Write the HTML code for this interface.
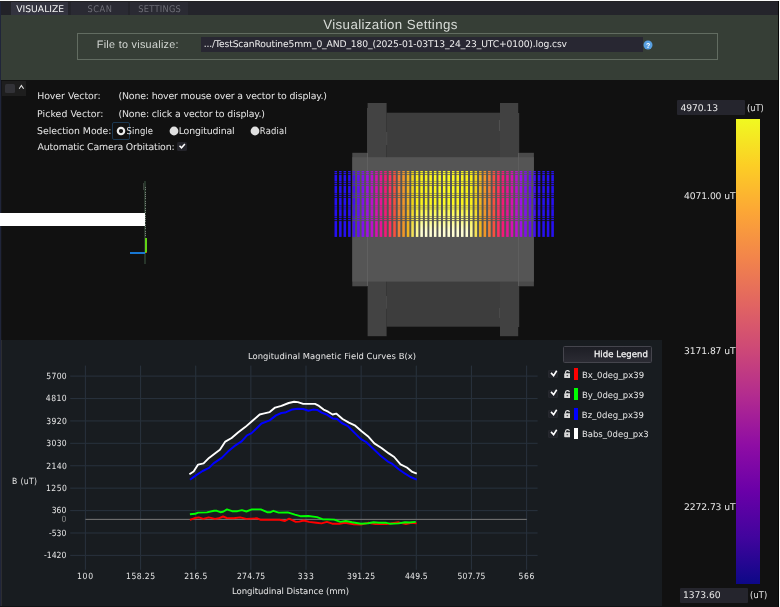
<!DOCTYPE html>
<html><head><meta charset="utf-8"><title>Visualization Settings</title>
<style>
html,body{margin:0;padding:0;background:#111;}
body{width:780px;height:607px;position:relative;overflow:hidden;}
#root{position:absolute;left:0;top:0;width:780px;height:607px;will-change:transform;}
svg text{text-rendering:geometricPrecision;}
.b{position:absolute;display:block;}
.t{position:absolute;white-space:nowrap;margin:0;padding:0;line-height:20px;text-rendering:geometricPrecision;}
.fC{font-family:'DejaVu Sans Condensed','DejaVu Sans',sans-serif;}
.fS{font-family:'DejaVu Sans','Liberation Sans',sans-serif;}
.fA{font-family:'Liberation Sans',sans-serif;}
svg text{text-rendering:geometricPrecision;}
</style></head><body><div id="root">
<div class="b" style="left:0px;top:0px;width:780px;height:607px;background:#111111;"></div>
<div class="b" style="left:0px;top:0px;width:780px;height:1.5px;background:#222124;"></div>
<div class="b" style="left:0px;top:1.5px;width:780px;height:13.9px;background:#24242b;"></div>
<div class="b" style="left:0px;top:1.5px;width:11.2px;height:13.9px;background:#222228;"></div>
<div class="b" style="left:11.2px;top:1.5px;width:57.3px;height:13.9px;background:#33333f;"></div>
<div class="b" style="left:70.5px;top:1.5px;width:57.099999999999994px;height:13.9px;background:#2a2a33;"></div>
<div class="b" style="left:129.6px;top:1.5px;width:58.0px;height:13.9px;background:#2a2a33;"></div>
<div class="t fS" style="left:-159.83px;width:400px;text-align:center;top:0px;font-size:9.2px;color:#f2f2f2;letter-spacing:0.012px;">VISUALIZE</div>
<div class="t fC" style="left:-99.97px;width:400px;text-align:center;top:0px;font-size:9.2px;color:#6d6d76;letter-spacing:0.581px;">SCAN</div>
<div class="t fC" style="left:-40.28px;width:400px;text-align:center;top:0px;font-size:9.2px;color:#6d6d76;letter-spacing:0.267px;">SETTINGS</div>
<div class="b" style="left:0px;top:15.4px;width:780px;height:65.1px;background:#363e36;"></div>
<div class="b" style="left:77px;top:33px;width:641px;height:27px;background:transparent;border:1px solid #626c61;box-sizing:border-box;"></div>
<div class="t fA" style="left:190.50px;width:400px;text-align:center;top:15px;font-size:13.3px;color:#d8dcd8;letter-spacing:0.379px;">Visualization Settings</div>
<div class="t fA" style="left:96.81px;top:35px;font-size:10.8px;color:#d4d8d4;letter-spacing:0.291px;">File to visualize:</div>
<div class="b" style="left:200.8px;top:36.9px;width:441.99999999999994px;height:14.800000000000004px;background:#282732;"></div>
<div class="t fS" style="left:203.76px;top:35px;font-size:9.2px;color:#eeeeee;letter-spacing:-0.132px;">.../TestScanRoutine5mm_0_AND_180_(2025-01-03T13_24_23_UTC+0100).log.csv</div>
<svg class="b" style="left:643.1px;top:39.7px" width="10" height="10" viewBox="0 0 10 10"><circle cx="5" cy="5" r="4.5" fill="#589fe0"/><text x="5.1" y="7.5" font-size="7" font-weight="bold" text-anchor="middle" fill="#ffffff" font-family="Liberation Sans,sans-serif">?</text></svg>
<div class="b" style="left:0px;top:80.5px;width:1.9px;height:526.5px;background:#15161a;"></div>
<div class="b" style="left:0px;top:1.5px;width:1px;height:605.5px;background:#20253a;"></div>
<div class="b" style="left:1px;top:339.7px;width:1px;height:267.3px;background:#2c2d31;"></div>
<div class="b" style="left:1.9px;top:80.5px;width:24.6px;height:15.299999999999997px;background:#1e1e1e;"></div>
<div class="b" style="left:5px;top:84px;width:9.6px;height:8.799999999999997px;background:#323237;border-radius:1.5px;"></div>
<svg class="b" style="left:17.9px;top:83.6px" width="7" height="6" viewBox="0 0 7 6"><path d="M1.2 4.7 L3.4 1.5 L5.6 4.7" fill="none" stroke="#e6e6e6" stroke-width="1.05"/></svg>
<div class="t fS" style="left:37.14px;top:87px;font-size:9.4px;color:#e4e4e4;letter-spacing:-0.030px;">Hover Vector:</div>
<div class="t fS" style="left:118.43px;top:87px;font-size:9.4px;color:#e4e4e4;letter-spacing:-0.145px;">(None: hover mouse over a vector to display.)</div>
<div class="t fS" style="left:37.12px;top:105px;font-size:9.4px;color:#e4e4e4;letter-spacing:0.040px;">Picked Vector:</div>
<div class="t fS" style="left:118.43px;top:105px;font-size:9.4px;color:#e4e4e4;letter-spacing:-0.124px;">(None: click a vector to display.)</div>
<div class="t fS" style="left:37.10px;top:122px;font-size:9.4px;color:#e4e4e4;letter-spacing:-0.042px;">Selection Mode:</div>
<div class="t fS" style="left:37.54px;top:138px;font-size:9.4px;color:#e4e4e4;letter-spacing:-0.150px;">Automatic Camera Orbitation:</div>
<div class="b" style="left:112px;top:122.2px;width:18.400000000000006px;height:17.700000000000003px;background:transparent;border:1px solid #1b3750;box-sizing:border-box;border-radius:2px;"></div>
<svg class="b" style="left:115.3px;top:124.7px" width="12" height="12" viewBox="0 0 12 12"><circle cx="6" cy="6" r="3.2" fill="#111" stroke="#ececec" stroke-width="2.15"/></svg>
<div class="t fC" style="left:126.60px;top:122px;font-size:9.4px;color:#e4e4e4;letter-spacing:0.092px;">Single</div>
<svg class="b" style="left:167.8px;top:125px" width="12" height="12" viewBox="0 0 12 12"><circle cx="6" cy="6" r="4.4" fill="#e0e0e0"/></svg>
<div class="t fS" style="left:178.70px;top:122px;font-size:9.4px;color:#e4e4e4;letter-spacing:-0.161px;">Longitudinal</div>
<svg class="b" style="left:249.1px;top:125px" width="12" height="12" viewBox="0 0 12 12"><circle cx="6" cy="6" r="4.4" fill="#e0e0e0"/></svg>
<div class="t fC" style="left:259.80px;top:122px;font-size:9.4px;color:#e4e4e4;letter-spacing:0.191px;">Radial</div>
<div class="b" style="left:176.9px;top:142.1px;width:10.099999999999994px;height:8.900000000000006px;background:#24242a;border-radius:1.5px;"></div>
<svg class="b" style="left:176.9px;top:142.1px" width="10.1" height="8.9" viewBox="0 0 10.1 8.9"><path d="M2.5 3.7 L4.5 5.8 L7.9 1.9" fill="none" stroke="#ffffff" stroke-width="1.5"/></svg>
<div class="b" style="left:144.3px;top:180.7px;width:1.799999999999983px;height:83.10000000000002px;background:#27352a;"></div>
<div class="b" style="left:145px;top:187px;width:1px;height:50px;background:repeating-linear-gradient(to bottom,#7b807b 0,#7b807b 1px,transparent 1px,transparent 2.3px);"></div>
<div class="b" style="left:143.3px;top:183.2px;width:0.8999999999999773px;height:6.600000000000023px;background:#3b403b;"></div>
<div class="b" style="left:0px;top:212.8px;width:145.2px;height:13.199999999999989px;background:#ffffff;"></div>
<div class="b" style="left:144.8px;top:238.4px;width:2.0999999999999943px;height:14.199999999999989px;background:#62d414;"></div>
<div class="b" style="left:129.8px;top:251.8px;width:15.599999999999994px;height:1.799999999999983px;background:#1877d2;"></div>
<div class="b" style="left:145.5px;top:252px;width:1.4000000000000057px;height:1.4000000000000057px;background:#cc3a22;"></div>
<svg class="b" style="left:0;top:80px" width="662" height="260" viewBox="0 80 662 260"><rect x="386.5" y="112.7" width="113.5" height="214" fill="#3d3d3d"/><rect x="367.6" y="103" width="19" height="233.2" fill="#434343"/><rect x="500" y="103" width="18.2" height="233.2" fill="#414141"/><rect x="518" y="113" width="1.2" height="214" fill="#414141"/><rect x="352.3" y="152.8" width="15.3" height="133.5" fill="#4a4a4a"/><rect x="519" y="152.8" width="14.9" height="133.5" fill="#4a4a4a"/><rect x="352.3" y="157.2" width="181.6" height="124.4" fill="#555555"/><rect x="367" y="153" width="0.9" height="133" fill="#626262"/><rect x="518" y="153" width="0.9" height="133" fill="#606060"/><rect x="367.2" y="108" width="0.8" height="45" fill="#4a4a4a"/><rect x="386.3" y="132" width="0.9" height="13" fill="#505050"/><rect x="498.9" y="120" width="0.9" height="11" fill="#555555"/><rect x="386.1" y="296" width="0.9" height="12.7" fill="#4c4c4c"/><rect x="499" y="308" width="0.9" height="10" fill="#4c4c4c"/><defs><linearGradient id="g0" x1="0" y1="170" x2="0" y2="238" gradientUnits="userSpaceOnUse"><stop offset="0" stop-color="#2610f0"/><stop offset="0.48" stop-color="#2610f0"/><stop offset="0.68" stop-color="#2610f0"/><stop offset="0.9" stop-color="#2610f0"/></linearGradient><linearGradient id="g1" x1="0" y1="170" x2="0" y2="238" gradientUnits="userSpaceOnUse"><stop offset="0" stop-color="#2710f0"/><stop offset="0.48" stop-color="#2710f0"/><stop offset="0.68" stop-color="#2710f0"/><stop offset="0.9" stop-color="#2710f0"/></linearGradient><linearGradient id="g2" x1="0" y1="170" x2="0" y2="238" gradientUnits="userSpaceOnUse"><stop offset="0" stop-color="#2710f0"/><stop offset="0.48" stop-color="#2710f0"/><stop offset="0.68" stop-color="#2710f0"/><stop offset="0.9" stop-color="#2710f0"/></linearGradient><linearGradient id="g3" x1="0" y1="170" x2="0" y2="238" gradientUnits="userSpaceOnUse"><stop offset="0" stop-color="#2810f0"/><stop offset="0.48" stop-color="#2810f0"/><stop offset="0.68" stop-color="#2810f0"/><stop offset="0.9" stop-color="#2810f0"/></linearGradient><linearGradient id="g4" x1="0" y1="170" x2="0" y2="238" gradientUnits="userSpaceOnUse"><stop offset="0" stop-color="#4610f0"/><stop offset="0.48" stop-color="#4610f0"/><stop offset="0.68" stop-color="#4610f0"/><stop offset="0.9" stop-color="#4610f0"/></linearGradient><linearGradient id="g5" x1="0" y1="170" x2="0" y2="238" gradientUnits="userSpaceOnUse"><stop offset="0" stop-color="#6410f0"/><stop offset="0.48" stop-color="#6410f0"/><stop offset="0.68" stop-color="#6410f0"/><stop offset="0.9" stop-color="#6410f0"/></linearGradient><linearGradient id="g6" x1="0" y1="170" x2="0" y2="238" gradientUnits="userSpaceOnUse"><stop offset="0" stop-color="#8210ec"/><stop offset="0.48" stop-color="#8210ec"/><stop offset="0.68" stop-color="#8210ec"/><stop offset="0.9" stop-color="#8210ec"/></linearGradient><linearGradient id="g7" x1="0" y1="170" x2="0" y2="238" gradientUnits="userSpaceOnUse"><stop offset="0" stop-color="#a010e8"/><stop offset="0.48" stop-color="#a010e8"/><stop offset="0.68" stop-color="#a010e8"/><stop offset="0.9" stop-color="#a010e8"/></linearGradient><linearGradient id="g8" x1="0" y1="170" x2="0" y2="238" gradientUnits="userSpaceOnUse"><stop offset="0" stop-color="#bc10ce"/><stop offset="0.48" stop-color="#bc10ce"/><stop offset="0.68" stop-color="#bc10ce"/><stop offset="0.9" stop-color="#bc10ce"/></linearGradient><linearGradient id="g9" x1="0" y1="170" x2="0" y2="238" gradientUnits="userSpaceOnUse"><stop offset="0" stop-color="#d710b4"/><stop offset="0.48" stop-color="#d710b4"/><stop offset="0.68" stop-color="#d710b4"/><stop offset="0.9" stop-color="#d710b4"/></linearGradient><linearGradient id="g10" x1="0" y1="170" x2="0" y2="238" gradientUnits="userSpaceOnUse"><stop offset="0" stop-color="#e61496"/><stop offset="0.48" stop-color="#e61496"/><stop offset="0.68" stop-color="#e61496"/><stop offset="0.9" stop-color="#e61496"/></linearGradient><linearGradient id="g11" x1="0" y1="170" x2="0" y2="238" gradientUnits="userSpaceOnUse"><stop offset="0" stop-color="#f51878"/><stop offset="0.48" stop-color="#f51878"/><stop offset="0.68" stop-color="#f51878"/><stop offset="0.9" stop-color="#f51878"/></linearGradient><linearGradient id="g12" x1="0" y1="170" x2="0" y2="238" gradientUnits="userSpaceOnUse"><stop offset="0" stop-color="#ff3060"/><stop offset="0.48" stop-color="#ff3060"/><stop offset="0.68" stop-color="#ff3060"/><stop offset="0.9" stop-color="#ff3060"/></linearGradient><linearGradient id="g13" x1="0" y1="170" x2="0" y2="238" gradientUnits="userSpaceOnUse"><stop offset="0" stop-color="#f85040"/><stop offset="0.48" stop-color="#f85040"/><stop offset="0.68" stop-color="#f85040"/><stop offset="0.9" stop-color="#f85040"/></linearGradient><linearGradient id="g14" x1="0" y1="170" x2="0" y2="238" gradientUnits="userSpaceOnUse"><stop offset="0" stop-color="#f08034"/><stop offset="0.48" stop-color="#f08034"/><stop offset="0.68" stop-color="#f08034"/><stop offset="0.9" stop-color="#f08034"/></linearGradient><linearGradient id="g15" x1="0" y1="170" x2="0" y2="238" gradientUnits="userSpaceOnUse"><stop offset="0" stop-color="#f09628"/><stop offset="0.48" stop-color="#f09628"/><stop offset="0.68" stop-color="#f09628"/><stop offset="0.9" stop-color="#f09628"/></linearGradient><linearGradient id="g16" x1="0" y1="170" x2="0" y2="238" gradientUnits="userSpaceOnUse"><stop offset="0" stop-color="#f0b420"/><stop offset="0.48" stop-color="#f0b420"/><stop offset="0.68" stop-color="#f0b420"/><stop offset="0.9" stop-color="#f0b420"/></linearGradient><linearGradient id="g17" x1="0" y1="170" x2="0" y2="238" gradientUnits="userSpaceOnUse"><stop offset="0" stop-color="#f0d418"/><stop offset="0.48" stop-color="#f0d418"/><stop offset="0.68" stop-color="#f3dd33"/><stop offset="0.9" stop-color="#f4e156"/></linearGradient><linearGradient id="g18" x1="0" y1="170" x2="0" y2="238" gradientUnits="userSpaceOnUse"><stop offset="0" stop-color="#f8ee18"/><stop offset="0.48" stop-color="#f8ee18"/><stop offset="0.68" stop-color="#fbf54e"/><stop offset="0.9" stop-color="#fcf895"/></linearGradient><linearGradient id="g19" x1="0" y1="170" x2="0" y2="238" gradientUnits="userSpaceOnUse"><stop offset="0" stop-color="#f9f01a"/><stop offset="0.48" stop-color="#f9f01a"/><stop offset="0.68" stop-color="#fcf96a"/><stop offset="0.9" stop-color="#fefed3"/></linearGradient><linearGradient id="g20" x1="0" y1="170" x2="0" y2="238" gradientUnits="userSpaceOnUse"><stop offset="0" stop-color="#f9f21c"/><stop offset="0.48" stop-color="#f9f21c"/><stop offset="0.68" stop-color="#fdfa6b"/><stop offset="0.9" stop-color="#fefed4"/></linearGradient><linearGradient id="g21" x1="0" y1="170" x2="0" y2="238" gradientUnits="userSpaceOnUse"><stop offset="0" stop-color="#faf41e"/><stop offset="0.48" stop-color="#faf41e"/><stop offset="0.68" stop-color="#fdfb6c"/><stop offset="0.9" stop-color="#fefed4"/></linearGradient><linearGradient id="g22" x1="0" y1="170" x2="0" y2="238" gradientUnits="userSpaceOnUse"><stop offset="0" stop-color="#fbf620"/><stop offset="0.48" stop-color="#fbf620"/><stop offset="0.68" stop-color="#fdfb6d"/><stop offset="0.9" stop-color="#fffed4"/></linearGradient><linearGradient id="g23" x1="0" y1="170" x2="0" y2="238" gradientUnits="userSpaceOnUse"><stop offset="0" stop-color="#fbf822"/><stop offset="0.48" stop-color="#fbf822"/><stop offset="0.68" stop-color="#fefc6e"/><stop offset="0.9" stop-color="#fffed4"/></linearGradient><linearGradient id="g24" x1="0" y1="170" x2="0" y2="238" gradientUnits="userSpaceOnUse"><stop offset="0" stop-color="#fcfa24"/><stop offset="0.48" stop-color="#fcfa24"/><stop offset="0.68" stop-color="#fefd6e"/><stop offset="0.9" stop-color="#fffed4"/></linearGradient><linearGradient id="g25" x1="0" y1="170" x2="0" y2="238" gradientUnits="userSpaceOnUse"><stop offset="0" stop-color="#fbf822"/><stop offset="0.48" stop-color="#fbf822"/><stop offset="0.68" stop-color="#fefc6e"/><stop offset="0.9" stop-color="#fffed4"/></linearGradient><linearGradient id="g26" x1="0" y1="170" x2="0" y2="238" gradientUnits="userSpaceOnUse"><stop offset="0" stop-color="#fbf620"/><stop offset="0.48" stop-color="#fbf620"/><stop offset="0.68" stop-color="#fdfb6d"/><stop offset="0.9" stop-color="#fffed4"/></linearGradient><linearGradient id="g27" x1="0" y1="170" x2="0" y2="238" gradientUnits="userSpaceOnUse"><stop offset="0" stop-color="#faf41e"/><stop offset="0.48" stop-color="#faf41e"/><stop offset="0.68" stop-color="#fdfb6c"/><stop offset="0.9" stop-color="#fefed4"/></linearGradient><linearGradient id="g28" x1="0" y1="170" x2="0" y2="238" gradientUnits="userSpaceOnUse"><stop offset="0" stop-color="#f9f21c"/><stop offset="0.48" stop-color="#f9f21c"/><stop offset="0.68" stop-color="#fdfa6b"/><stop offset="0.9" stop-color="#fefed4"/></linearGradient><linearGradient id="g29" x1="0" y1="170" x2="0" y2="238" gradientUnits="userSpaceOnUse"><stop offset="0" stop-color="#f9f01a"/><stop offset="0.48" stop-color="#f9f01a"/><stop offset="0.68" stop-color="#fcf96a"/><stop offset="0.9" stop-color="#fefed3"/></linearGradient><linearGradient id="g30" x1="0" y1="170" x2="0" y2="238" gradientUnits="userSpaceOnUse"><stop offset="0" stop-color="#f8ee18"/><stop offset="0.48" stop-color="#f8ee18"/><stop offset="0.68" stop-color="#fbf54e"/><stop offset="0.9" stop-color="#fcf895"/></linearGradient><linearGradient id="g31" x1="0" y1="170" x2="0" y2="238" gradientUnits="userSpaceOnUse"><stop offset="0" stop-color="#f0d418"/><stop offset="0.48" stop-color="#f0d418"/><stop offset="0.68" stop-color="#f3dd33"/><stop offset="0.9" stop-color="#f4e156"/></linearGradient><linearGradient id="g32" x1="0" y1="170" x2="0" y2="238" gradientUnits="userSpaceOnUse"><stop offset="0" stop-color="#f0b420"/><stop offset="0.48" stop-color="#f0b420"/><stop offset="0.68" stop-color="#f0b420"/><stop offset="0.9" stop-color="#f0b420"/></linearGradient><linearGradient id="g33" x1="0" y1="170" x2="0" y2="238" gradientUnits="userSpaceOnUse"><stop offset="0" stop-color="#f09628"/><stop offset="0.48" stop-color="#f09628"/><stop offset="0.68" stop-color="#f09628"/><stop offset="0.9" stop-color="#f09628"/></linearGradient><linearGradient id="g34" x1="0" y1="170" x2="0" y2="238" gradientUnits="userSpaceOnUse"><stop offset="0" stop-color="#f08034"/><stop offset="0.48" stop-color="#f08034"/><stop offset="0.68" stop-color="#f08034"/><stop offset="0.9" stop-color="#f08034"/></linearGradient><linearGradient id="g35" x1="0" y1="170" x2="0" y2="238" gradientUnits="userSpaceOnUse"><stop offset="0" stop-color="#f85040"/><stop offset="0.48" stop-color="#f85040"/><stop offset="0.68" stop-color="#f85040"/><stop offset="0.9" stop-color="#f85040"/></linearGradient><linearGradient id="g36" x1="0" y1="170" x2="0" y2="238" gradientUnits="userSpaceOnUse"><stop offset="0" stop-color="#ff3060"/><stop offset="0.48" stop-color="#ff3060"/><stop offset="0.68" stop-color="#ff3060"/><stop offset="0.9" stop-color="#ff3060"/></linearGradient><linearGradient id="g37" x1="0" y1="170" x2="0" y2="238" gradientUnits="userSpaceOnUse"><stop offset="0" stop-color="#f51878"/><stop offset="0.48" stop-color="#f51878"/><stop offset="0.68" stop-color="#f51878"/><stop offset="0.9" stop-color="#f51878"/></linearGradient><linearGradient id="g38" x1="0" y1="170" x2="0" y2="238" gradientUnits="userSpaceOnUse"><stop offset="0" stop-color="#e61496"/><stop offset="0.48" stop-color="#e61496"/><stop offset="0.68" stop-color="#e61496"/><stop offset="0.9" stop-color="#e61496"/></linearGradient><linearGradient id="g39" x1="0" y1="170" x2="0" y2="238" gradientUnits="userSpaceOnUse"><stop offset="0" stop-color="#d710b4"/><stop offset="0.48" stop-color="#d710b4"/><stop offset="0.68" stop-color="#d710b4"/><stop offset="0.9" stop-color="#d710b4"/></linearGradient><linearGradient id="g40" x1="0" y1="170" x2="0" y2="238" gradientUnits="userSpaceOnUse"><stop offset="0" stop-color="#bc10ce"/><stop offset="0.48" stop-color="#bc10ce"/><stop offset="0.68" stop-color="#bc10ce"/><stop offset="0.9" stop-color="#bc10ce"/></linearGradient><linearGradient id="g41" x1="0" y1="170" x2="0" y2="238" gradientUnits="userSpaceOnUse"><stop offset="0" stop-color="#a010e8"/><stop offset="0.48" stop-color="#a010e8"/><stop offset="0.68" stop-color="#a010e8"/><stop offset="0.9" stop-color="#a010e8"/></linearGradient><linearGradient id="g42" x1="0" y1="170" x2="0" y2="238" gradientUnits="userSpaceOnUse"><stop offset="0" stop-color="#8210ec"/><stop offset="0.48" stop-color="#8210ec"/><stop offset="0.68" stop-color="#8210ec"/><stop offset="0.9" stop-color="#8210ec"/></linearGradient><linearGradient id="g43" x1="0" y1="170" x2="0" y2="238" gradientUnits="userSpaceOnUse"><stop offset="0" stop-color="#6410f0"/><stop offset="0.48" stop-color="#6410f0"/><stop offset="0.68" stop-color="#6410f0"/><stop offset="0.9" stop-color="#6410f0"/></linearGradient><linearGradient id="g44" x1="0" y1="170" x2="0" y2="238" gradientUnits="userSpaceOnUse"><stop offset="0" stop-color="#4610f0"/><stop offset="0.48" stop-color="#4610f0"/><stop offset="0.68" stop-color="#4610f0"/><stop offset="0.9" stop-color="#4610f0"/></linearGradient><linearGradient id="g45" x1="0" y1="170" x2="0" y2="238" gradientUnits="userSpaceOnUse"><stop offset="0" stop-color="#2810f0"/><stop offset="0.48" stop-color="#2810f0"/><stop offset="0.68" stop-color="#2810f0"/><stop offset="0.9" stop-color="#2810f0"/></linearGradient><linearGradient id="g46" x1="0" y1="170" x2="0" y2="238" gradientUnits="userSpaceOnUse"><stop offset="0" stop-color="#2710f0"/><stop offset="0.48" stop-color="#2710f0"/><stop offset="0.68" stop-color="#2710f0"/><stop offset="0.9" stop-color="#2710f0"/></linearGradient><linearGradient id="g47" x1="0" y1="170" x2="0" y2="238" gradientUnits="userSpaceOnUse"><stop offset="0" stop-color="#2710f0"/><stop offset="0.48" stop-color="#2710f0"/><stop offset="0.68" stop-color="#2710f0"/><stop offset="0.9" stop-color="#2710f0"/></linearGradient><linearGradient id="g48" x1="0" y1="170" x2="0" y2="238" gradientUnits="userSpaceOnUse"><stop offset="0" stop-color="#2610f0"/><stop offset="0.48" stop-color="#2610f0"/><stop offset="0.68" stop-color="#2610f0"/><stop offset="0.9" stop-color="#2610f0"/></linearGradient></defs><rect x="334.55" y="171" width="2.5" height="65.9" fill="url(#g0)" opacity="0.18"/><rect x="334.55" y="171.0" width="2.5" height="1.20" fill="url(#g0)"/><rect x="334.55" y="172.9" width="2.5" height="1.20" fill="url(#g0)"/><rect x="334.55" y="174.9" width="2.5" height="6.60" fill="url(#g0)"/><rect x="334.55" y="182.0" width="2.5" height="1.20" fill="url(#g0)"/><rect x="334.55" y="184.0" width="2.5" height="1.10" fill="url(#g0)"/><rect x="334.55" y="185.9" width="2.5" height="7.50" fill="url(#g0)"/><rect x="334.55" y="193.9" width="2.5" height="1.10" fill="url(#g0)"/><rect x="334.55" y="195.8" width="2.5" height="1.20" fill="url(#g0)"/><rect x="334.55" y="197.8" width="2.5" height="7.50" fill="url(#g0)"/><rect x="334.55" y="205.6" width="2.5" height="1.30" fill="url(#g0)"/><rect x="334.55" y="207.3" width="2.5" height="1.50" fill="url(#g0)"/><rect x="334.55" y="209.2" width="2.5" height="7.10" fill="url(#g0)"/><rect x="334.55" y="216.8" width="2.5" height="1.20" fill="url(#g0)"/><rect x="334.55" y="218.9" width="2.5" height="1.20" fill="url(#g0)"/><rect x="334.55" y="221.1" width="2.5" height="15.80" fill="url(#g0)"/><rect x="339.07" y="171" width="2.5" height="65.9" fill="url(#g1)" opacity="0.18"/><rect x="339.07" y="171.0" width="2.5" height="1.20" fill="url(#g1)"/><rect x="339.07" y="172.9" width="2.5" height="1.20" fill="url(#g1)"/><rect x="339.07" y="174.9" width="2.5" height="6.60" fill="url(#g1)"/><rect x="339.07" y="182.0" width="2.5" height="1.20" fill="url(#g1)"/><rect x="339.07" y="184.0" width="2.5" height="1.10" fill="url(#g1)"/><rect x="339.07" y="185.9" width="2.5" height="7.50" fill="url(#g1)"/><rect x="339.07" y="193.9" width="2.5" height="1.10" fill="url(#g1)"/><rect x="339.07" y="195.8" width="2.5" height="1.20" fill="url(#g1)"/><rect x="339.07" y="197.8" width="2.5" height="7.50" fill="url(#g1)"/><rect x="339.07" y="205.6" width="2.5" height="1.30" fill="url(#g1)"/><rect x="339.07" y="207.3" width="2.5" height="1.50" fill="url(#g1)"/><rect x="339.07" y="209.2" width="2.5" height="7.10" fill="url(#g1)"/><rect x="339.07" y="216.8" width="2.5" height="1.20" fill="url(#g1)"/><rect x="339.07" y="218.9" width="2.5" height="1.20" fill="url(#g1)"/><rect x="339.07" y="221.1" width="2.5" height="15.80" fill="url(#g1)"/><rect x="343.58" y="171" width="2.5" height="65.9" fill="url(#g2)" opacity="0.18"/><rect x="343.58" y="171.0" width="2.5" height="1.20" fill="url(#g2)"/><rect x="343.58" y="172.9" width="2.5" height="1.20" fill="url(#g2)"/><rect x="343.58" y="174.9" width="2.5" height="6.60" fill="url(#g2)"/><rect x="343.58" y="182.0" width="2.5" height="1.20" fill="url(#g2)"/><rect x="343.58" y="184.0" width="2.5" height="1.10" fill="url(#g2)"/><rect x="343.58" y="185.9" width="2.5" height="7.50" fill="url(#g2)"/><rect x="343.58" y="193.9" width="2.5" height="1.10" fill="url(#g2)"/><rect x="343.58" y="195.8" width="2.5" height="1.20" fill="url(#g2)"/><rect x="343.58" y="197.8" width="2.5" height="7.50" fill="url(#g2)"/><rect x="343.58" y="205.6" width="2.5" height="1.30" fill="url(#g2)"/><rect x="343.58" y="207.3" width="2.5" height="1.50" fill="url(#g2)"/><rect x="343.58" y="209.2" width="2.5" height="7.10" fill="url(#g2)"/><rect x="343.58" y="216.8" width="2.5" height="1.20" fill="url(#g2)"/><rect x="343.58" y="218.9" width="2.5" height="1.20" fill="url(#g2)"/><rect x="343.58" y="221.1" width="2.5" height="15.80" fill="url(#g2)"/><rect x="348.10" y="171" width="2.5" height="65.9" fill="url(#g3)" opacity="0.18"/><rect x="348.10" y="171.0" width="2.5" height="1.20" fill="url(#g3)"/><rect x="348.10" y="172.9" width="2.5" height="1.20" fill="url(#g3)"/><rect x="348.10" y="174.9" width="2.5" height="6.60" fill="url(#g3)"/><rect x="348.10" y="182.0" width="2.5" height="1.20" fill="url(#g3)"/><rect x="348.10" y="184.0" width="2.5" height="1.10" fill="url(#g3)"/><rect x="348.10" y="185.9" width="2.5" height="7.50" fill="url(#g3)"/><rect x="348.10" y="193.9" width="2.5" height="1.10" fill="url(#g3)"/><rect x="348.10" y="195.8" width="2.5" height="1.20" fill="url(#g3)"/><rect x="348.10" y="197.8" width="2.5" height="7.50" fill="url(#g3)"/><rect x="348.10" y="205.6" width="2.5" height="1.30" fill="url(#g3)"/><rect x="348.10" y="207.3" width="2.5" height="1.50" fill="url(#g3)"/><rect x="348.10" y="209.2" width="2.5" height="7.10" fill="url(#g3)"/><rect x="348.10" y="216.8" width="2.5" height="1.20" fill="url(#g3)"/><rect x="348.10" y="218.9" width="2.5" height="1.20" fill="url(#g3)"/><rect x="348.10" y="221.1" width="2.5" height="15.80" fill="url(#g3)"/><rect x="352.62" y="171" width="2.5" height="65.9" fill="url(#g4)" opacity="0.18"/><rect x="352.62" y="171.0" width="2.5" height="1.20" fill="url(#g4)"/><rect x="352.62" y="172.9" width="2.5" height="1.20" fill="url(#g4)"/><rect x="352.62" y="174.9" width="2.5" height="6.60" fill="url(#g4)"/><rect x="352.62" y="182.0" width="2.5" height="1.20" fill="url(#g4)"/><rect x="352.62" y="184.0" width="2.5" height="1.10" fill="url(#g4)"/><rect x="352.62" y="185.9" width="2.5" height="7.50" fill="url(#g4)"/><rect x="352.62" y="193.9" width="2.5" height="1.10" fill="url(#g4)"/><rect x="352.62" y="195.8" width="2.5" height="1.20" fill="url(#g4)"/><rect x="352.62" y="197.8" width="2.5" height="7.50" fill="url(#g4)"/><rect x="352.62" y="205.6" width="2.5" height="1.30" fill="url(#g4)"/><rect x="352.62" y="207.3" width="2.5" height="1.50" fill="url(#g4)"/><rect x="352.62" y="209.2" width="2.5" height="7.10" fill="url(#g4)"/><rect x="352.62" y="216.8" width="2.5" height="1.20" fill="url(#g4)"/><rect x="352.62" y="218.9" width="2.5" height="1.20" fill="url(#g4)"/><rect x="352.62" y="221.1" width="2.5" height="15.80" fill="url(#g4)"/><rect x="357.13" y="171" width="2.5" height="65.9" fill="url(#g5)" opacity="0.18"/><rect x="357.13" y="171.0" width="2.5" height="1.20" fill="url(#g5)"/><rect x="357.13" y="172.9" width="2.5" height="1.20" fill="url(#g5)"/><rect x="357.13" y="174.9" width="2.5" height="6.60" fill="url(#g5)"/><rect x="357.13" y="182.0" width="2.5" height="1.20" fill="url(#g5)"/><rect x="357.13" y="184.0" width="2.5" height="1.10" fill="url(#g5)"/><rect x="357.13" y="185.9" width="2.5" height="7.50" fill="url(#g5)"/><rect x="357.13" y="193.9" width="2.5" height="1.10" fill="url(#g5)"/><rect x="357.13" y="195.8" width="2.5" height="1.20" fill="url(#g5)"/><rect x="357.13" y="197.8" width="2.5" height="7.50" fill="url(#g5)"/><rect x="357.13" y="205.6" width="2.5" height="1.30" fill="url(#g5)"/><rect x="357.13" y="207.3" width="2.5" height="1.50" fill="url(#g5)"/><rect x="357.13" y="209.2" width="2.5" height="7.10" fill="url(#g5)"/><rect x="357.13" y="216.8" width="2.5" height="1.20" fill="url(#g5)"/><rect x="357.13" y="218.9" width="2.5" height="1.20" fill="url(#g5)"/><rect x="357.13" y="221.1" width="2.5" height="15.80" fill="url(#g5)"/><rect x="361.65" y="171" width="2.5" height="65.9" fill="url(#g6)" opacity="0.18"/><rect x="361.65" y="171.0" width="2.5" height="1.20" fill="url(#g6)"/><rect x="361.65" y="172.9" width="2.5" height="1.20" fill="url(#g6)"/><rect x="361.65" y="174.9" width="2.5" height="6.60" fill="url(#g6)"/><rect x="361.65" y="182.0" width="2.5" height="1.20" fill="url(#g6)"/><rect x="361.65" y="184.0" width="2.5" height="1.10" fill="url(#g6)"/><rect x="361.65" y="185.9" width="2.5" height="7.50" fill="url(#g6)"/><rect x="361.65" y="193.9" width="2.5" height="1.10" fill="url(#g6)"/><rect x="361.65" y="195.8" width="2.5" height="1.20" fill="url(#g6)"/><rect x="361.65" y="197.8" width="2.5" height="7.50" fill="url(#g6)"/><rect x="361.65" y="205.6" width="2.5" height="1.30" fill="url(#g6)"/><rect x="361.65" y="207.3" width="2.5" height="1.50" fill="url(#g6)"/><rect x="361.65" y="209.2" width="2.5" height="7.10" fill="url(#g6)"/><rect x="361.65" y="216.8" width="2.5" height="1.20" fill="url(#g6)"/><rect x="361.65" y="218.9" width="2.5" height="1.20" fill="url(#g6)"/><rect x="361.65" y="221.1" width="2.5" height="15.80" fill="url(#g6)"/><rect x="366.17" y="171" width="2.5" height="65.9" fill="url(#g7)" opacity="0.18"/><rect x="366.17" y="171.0" width="2.5" height="1.20" fill="url(#g7)"/><rect x="366.17" y="172.9" width="2.5" height="1.20" fill="url(#g7)"/><rect x="366.17" y="174.9" width="2.5" height="6.60" fill="url(#g7)"/><rect x="366.17" y="182.0" width="2.5" height="1.20" fill="url(#g7)"/><rect x="366.17" y="184.0" width="2.5" height="1.10" fill="url(#g7)"/><rect x="366.17" y="185.9" width="2.5" height="7.50" fill="url(#g7)"/><rect x="366.17" y="193.9" width="2.5" height="1.10" fill="url(#g7)"/><rect x="366.17" y="195.8" width="2.5" height="1.20" fill="url(#g7)"/><rect x="366.17" y="197.8" width="2.5" height="7.50" fill="url(#g7)"/><rect x="366.17" y="205.6" width="2.5" height="1.30" fill="url(#g7)"/><rect x="366.17" y="207.3" width="2.5" height="1.50" fill="url(#g7)"/><rect x="366.17" y="209.2" width="2.5" height="7.10" fill="url(#g7)"/><rect x="366.17" y="216.8" width="2.5" height="1.20" fill="url(#g7)"/><rect x="366.17" y="218.9" width="2.5" height="1.20" fill="url(#g7)"/><rect x="366.17" y="221.1" width="2.5" height="15.80" fill="url(#g7)"/><rect x="370.68" y="171" width="2.5" height="65.9" fill="url(#g8)" opacity="0.18"/><rect x="370.68" y="171.0" width="2.5" height="1.20" fill="url(#g8)"/><rect x="370.68" y="172.9" width="2.5" height="1.20" fill="url(#g8)"/><rect x="370.68" y="174.9" width="2.5" height="6.60" fill="url(#g8)"/><rect x="370.68" y="182.0" width="2.5" height="1.20" fill="url(#g8)"/><rect x="370.68" y="184.0" width="2.5" height="1.10" fill="url(#g8)"/><rect x="370.68" y="185.9" width="2.5" height="7.50" fill="url(#g8)"/><rect x="370.68" y="193.9" width="2.5" height="1.10" fill="url(#g8)"/><rect x="370.68" y="195.8" width="2.5" height="1.20" fill="url(#g8)"/><rect x="370.68" y="197.8" width="2.5" height="7.50" fill="url(#g8)"/><rect x="370.68" y="205.6" width="2.5" height="1.30" fill="url(#g8)"/><rect x="370.68" y="207.3" width="2.5" height="1.50" fill="url(#g8)"/><rect x="370.68" y="209.2" width="2.5" height="7.10" fill="url(#g8)"/><rect x="370.68" y="216.8" width="2.5" height="1.20" fill="url(#g8)"/><rect x="370.68" y="218.9" width="2.5" height="1.20" fill="url(#g8)"/><rect x="370.68" y="221.1" width="2.5" height="15.80" fill="url(#g8)"/><rect x="375.20" y="171" width="2.5" height="65.9" fill="url(#g9)" opacity="0.18"/><rect x="375.20" y="171.0" width="2.5" height="1.20" fill="url(#g9)"/><rect x="375.20" y="172.9" width="2.5" height="1.20" fill="url(#g9)"/><rect x="375.20" y="174.9" width="2.5" height="6.60" fill="url(#g9)"/><rect x="375.20" y="182.0" width="2.5" height="1.20" fill="url(#g9)"/><rect x="375.20" y="184.0" width="2.5" height="1.10" fill="url(#g9)"/><rect x="375.20" y="185.9" width="2.5" height="7.50" fill="url(#g9)"/><rect x="375.20" y="193.9" width="2.5" height="1.10" fill="url(#g9)"/><rect x="375.20" y="195.8" width="2.5" height="1.20" fill="url(#g9)"/><rect x="375.20" y="197.8" width="2.5" height="7.50" fill="url(#g9)"/><rect x="375.20" y="205.6" width="2.5" height="1.30" fill="url(#g9)"/><rect x="375.20" y="207.3" width="2.5" height="1.50" fill="url(#g9)"/><rect x="375.20" y="209.2" width="2.5" height="7.10" fill="url(#g9)"/><rect x="375.20" y="216.8" width="2.5" height="1.20" fill="url(#g9)"/><rect x="375.20" y="218.9" width="2.5" height="1.20" fill="url(#g9)"/><rect x="375.20" y="221.1" width="2.5" height="15.80" fill="url(#g9)"/><rect x="379.72" y="171" width="2.5" height="65.9" fill="url(#g10)" opacity="0.18"/><rect x="379.72" y="171.0" width="2.5" height="1.20" fill="url(#g10)"/><rect x="379.72" y="172.9" width="2.5" height="1.20" fill="url(#g10)"/><rect x="379.72" y="174.9" width="2.5" height="6.60" fill="url(#g10)"/><rect x="379.72" y="182.0" width="2.5" height="1.20" fill="url(#g10)"/><rect x="379.72" y="184.0" width="2.5" height="1.10" fill="url(#g10)"/><rect x="379.72" y="185.9" width="2.5" height="7.50" fill="url(#g10)"/><rect x="379.72" y="193.9" width="2.5" height="1.10" fill="url(#g10)"/><rect x="379.72" y="195.8" width="2.5" height="1.20" fill="url(#g10)"/><rect x="379.72" y="197.8" width="2.5" height="7.50" fill="url(#g10)"/><rect x="379.72" y="205.6" width="2.5" height="1.30" fill="url(#g10)"/><rect x="379.72" y="207.3" width="2.5" height="1.50" fill="url(#g10)"/><rect x="379.72" y="209.2" width="2.5" height="7.10" fill="url(#g10)"/><rect x="379.72" y="216.8" width="2.5" height="1.20" fill="url(#g10)"/><rect x="379.72" y="218.9" width="2.5" height="1.20" fill="url(#g10)"/><rect x="379.72" y="221.1" width="2.5" height="15.80" fill="url(#g10)"/><rect x="384.23" y="171" width="2.5" height="65.9" fill="url(#g11)" opacity="0.18"/><rect x="384.23" y="171.0" width="2.5" height="1.20" fill="url(#g11)"/><rect x="384.23" y="172.9" width="2.5" height="1.20" fill="url(#g11)"/><rect x="384.23" y="174.9" width="2.5" height="6.60" fill="url(#g11)"/><rect x="384.23" y="182.0" width="2.5" height="1.20" fill="url(#g11)"/><rect x="384.23" y="184.0" width="2.5" height="1.10" fill="url(#g11)"/><rect x="384.23" y="185.9" width="2.5" height="7.50" fill="url(#g11)"/><rect x="384.23" y="193.9" width="2.5" height="1.10" fill="url(#g11)"/><rect x="384.23" y="195.8" width="2.5" height="1.20" fill="url(#g11)"/><rect x="384.23" y="197.8" width="2.5" height="7.50" fill="url(#g11)"/><rect x="384.23" y="205.6" width="2.5" height="1.30" fill="url(#g11)"/><rect x="384.23" y="207.3" width="2.5" height="1.50" fill="url(#g11)"/><rect x="384.23" y="209.2" width="2.5" height="7.10" fill="url(#g11)"/><rect x="384.23" y="216.8" width="2.5" height="1.20" fill="url(#g11)"/><rect x="384.23" y="218.9" width="2.5" height="1.20" fill="url(#g11)"/><rect x="384.23" y="221.1" width="2.5" height="15.80" fill="url(#g11)"/><rect x="388.75" y="171" width="2.5" height="65.9" fill="url(#g12)" opacity="0.18"/><rect x="388.75" y="171.0" width="2.5" height="1.20" fill="url(#g12)"/><rect x="388.75" y="172.9" width="2.5" height="1.20" fill="url(#g12)"/><rect x="388.75" y="174.9" width="2.5" height="6.60" fill="url(#g12)"/><rect x="388.75" y="182.0" width="2.5" height="1.20" fill="url(#g12)"/><rect x="388.75" y="184.0" width="2.5" height="1.10" fill="url(#g12)"/><rect x="388.75" y="185.9" width="2.5" height="7.50" fill="url(#g12)"/><rect x="388.75" y="193.9" width="2.5" height="1.10" fill="url(#g12)"/><rect x="388.75" y="195.8" width="2.5" height="1.20" fill="url(#g12)"/><rect x="388.75" y="197.8" width="2.5" height="7.50" fill="url(#g12)"/><rect x="388.75" y="205.6" width="2.5" height="1.30" fill="url(#g12)"/><rect x="388.75" y="207.3" width="2.5" height="1.50" fill="url(#g12)"/><rect x="388.75" y="209.2" width="2.5" height="7.10" fill="url(#g12)"/><rect x="388.75" y="216.8" width="2.5" height="1.20" fill="url(#g12)"/><rect x="388.75" y="218.9" width="2.5" height="1.20" fill="url(#g12)"/><rect x="388.75" y="221.1" width="2.5" height="15.80" fill="url(#g12)"/><rect x="393.27" y="171" width="2.5" height="65.9" fill="url(#g13)" opacity="0.18"/><rect x="393.27" y="171.0" width="2.5" height="1.20" fill="url(#g13)"/><rect x="393.27" y="172.9" width="2.5" height="1.20" fill="url(#g13)"/><rect x="393.27" y="174.9" width="2.5" height="6.60" fill="url(#g13)"/><rect x="393.27" y="182.0" width="2.5" height="1.20" fill="url(#g13)"/><rect x="393.27" y="184.0" width="2.5" height="1.10" fill="url(#g13)"/><rect x="393.27" y="185.9" width="2.5" height="7.50" fill="url(#g13)"/><rect x="393.27" y="193.9" width="2.5" height="1.10" fill="url(#g13)"/><rect x="393.27" y="195.8" width="2.5" height="1.20" fill="url(#g13)"/><rect x="393.27" y="197.8" width="2.5" height="7.50" fill="url(#g13)"/><rect x="393.27" y="205.6" width="2.5" height="1.30" fill="url(#g13)"/><rect x="393.27" y="207.3" width="2.5" height="1.50" fill="url(#g13)"/><rect x="393.27" y="209.2" width="2.5" height="7.10" fill="url(#g13)"/><rect x="393.27" y="216.8" width="2.5" height="1.20" fill="url(#g13)"/><rect x="393.27" y="218.9" width="2.5" height="1.20" fill="url(#g13)"/><rect x="393.27" y="221.1" width="2.5" height="15.80" fill="url(#g13)"/><rect x="397.78" y="171" width="2.5" height="65.9" fill="url(#g14)" opacity="0.18"/><rect x="397.78" y="171.0" width="2.5" height="1.20" fill="url(#g14)"/><rect x="397.78" y="172.9" width="2.5" height="1.20" fill="url(#g14)"/><rect x="397.78" y="174.9" width="2.5" height="6.60" fill="url(#g14)"/><rect x="397.78" y="182.0" width="2.5" height="1.20" fill="url(#g14)"/><rect x="397.78" y="184.0" width="2.5" height="1.10" fill="url(#g14)"/><rect x="397.78" y="185.9" width="2.5" height="7.50" fill="url(#g14)"/><rect x="397.78" y="193.9" width="2.5" height="1.10" fill="url(#g14)"/><rect x="397.78" y="195.8" width="2.5" height="1.20" fill="url(#g14)"/><rect x="397.78" y="197.8" width="2.5" height="7.50" fill="url(#g14)"/><rect x="397.78" y="205.6" width="2.5" height="1.30" fill="url(#g14)"/><rect x="397.78" y="207.3" width="2.5" height="1.50" fill="url(#g14)"/><rect x="397.78" y="209.2" width="2.5" height="7.10" fill="url(#g14)"/><rect x="397.78" y="216.8" width="2.5" height="1.20" fill="url(#g14)"/><rect x="397.78" y="218.9" width="2.5" height="1.20" fill="url(#g14)"/><rect x="397.78" y="221.1" width="2.5" height="15.80" fill="url(#g14)"/><rect x="402.30" y="171" width="2.5" height="65.9" fill="url(#g15)" opacity="0.18"/><rect x="402.30" y="171.0" width="2.5" height="1.20" fill="url(#g15)"/><rect x="402.30" y="172.9" width="2.5" height="1.20" fill="url(#g15)"/><rect x="402.30" y="174.9" width="2.5" height="6.60" fill="url(#g15)"/><rect x="402.30" y="182.0" width="2.5" height="1.20" fill="url(#g15)"/><rect x="402.30" y="184.0" width="2.5" height="1.10" fill="url(#g15)"/><rect x="402.30" y="185.9" width="2.5" height="7.50" fill="url(#g15)"/><rect x="402.30" y="193.9" width="2.5" height="1.10" fill="url(#g15)"/><rect x="402.30" y="195.8" width="2.5" height="1.20" fill="url(#g15)"/><rect x="402.30" y="197.8" width="2.5" height="7.50" fill="url(#g15)"/><rect x="402.30" y="205.6" width="2.5" height="1.30" fill="url(#g15)"/><rect x="402.30" y="207.3" width="2.5" height="1.50" fill="url(#g15)"/><rect x="402.30" y="209.2" width="2.5" height="7.10" fill="url(#g15)"/><rect x="402.30" y="216.8" width="2.5" height="1.20" fill="url(#g15)"/><rect x="402.30" y="218.9" width="2.5" height="1.20" fill="url(#g15)"/><rect x="402.30" y="221.1" width="2.5" height="15.80" fill="url(#g15)"/><rect x="406.82" y="171" width="2.5" height="65.9" fill="url(#g16)" opacity="0.18"/><rect x="406.82" y="171.0" width="2.5" height="1.20" fill="url(#g16)"/><rect x="406.82" y="172.9" width="2.5" height="1.20" fill="url(#g16)"/><rect x="406.82" y="174.9" width="2.5" height="6.60" fill="url(#g16)"/><rect x="406.82" y="182.0" width="2.5" height="1.20" fill="url(#g16)"/><rect x="406.82" y="184.0" width="2.5" height="1.10" fill="url(#g16)"/><rect x="406.82" y="185.9" width="2.5" height="7.50" fill="url(#g16)"/><rect x="406.82" y="193.9" width="2.5" height="1.10" fill="url(#g16)"/><rect x="406.82" y="195.8" width="2.5" height="1.20" fill="url(#g16)"/><rect x="406.82" y="197.8" width="2.5" height="7.50" fill="url(#g16)"/><rect x="406.82" y="205.6" width="2.5" height="1.30" fill="url(#g16)"/><rect x="406.82" y="207.3" width="2.5" height="1.50" fill="url(#g16)"/><rect x="406.82" y="209.2" width="2.5" height="7.10" fill="url(#g16)"/><rect x="406.82" y="216.8" width="2.5" height="1.20" fill="url(#g16)"/><rect x="406.82" y="218.9" width="2.5" height="1.20" fill="url(#g16)"/><rect x="406.82" y="221.1" width="2.5" height="15.80" fill="url(#g16)"/><rect x="411.33" y="171" width="2.5" height="65.9" fill="url(#g17)" opacity="0.18"/><rect x="411.33" y="171.0" width="2.5" height="1.20" fill="url(#g17)"/><rect x="411.33" y="172.9" width="2.5" height="1.20" fill="url(#g17)"/><rect x="411.33" y="174.9" width="2.5" height="6.60" fill="url(#g17)"/><rect x="411.33" y="182.0" width="2.5" height="1.20" fill="url(#g17)"/><rect x="411.33" y="184.0" width="2.5" height="1.10" fill="url(#g17)"/><rect x="411.33" y="185.9" width="2.5" height="7.50" fill="url(#g17)"/><rect x="411.33" y="193.9" width="2.5" height="1.10" fill="url(#g17)"/><rect x="411.33" y="195.8" width="2.5" height="1.20" fill="url(#g17)"/><rect x="411.33" y="197.8" width="2.5" height="7.50" fill="url(#g17)"/><rect x="411.33" y="205.6" width="2.5" height="1.30" fill="url(#g17)"/><rect x="411.33" y="207.3" width="2.5" height="1.50" fill="url(#g17)"/><rect x="411.33" y="209.2" width="2.5" height="7.10" fill="url(#g17)"/><rect x="411.33" y="216.8" width="2.5" height="1.20" fill="url(#g17)"/><rect x="411.33" y="218.9" width="2.5" height="1.20" fill="url(#g17)"/><rect x="411.33" y="221.1" width="2.5" height="15.80" fill="url(#g17)"/><rect x="415.85" y="171" width="2.5" height="65.9" fill="url(#g18)" opacity="0.18"/><rect x="415.85" y="171.0" width="2.5" height="1.20" fill="url(#g18)"/><rect x="415.85" y="172.9" width="2.5" height="1.20" fill="url(#g18)"/><rect x="415.85" y="174.9" width="2.5" height="6.60" fill="url(#g18)"/><rect x="415.85" y="182.0" width="2.5" height="1.20" fill="url(#g18)"/><rect x="415.85" y="184.0" width="2.5" height="1.10" fill="url(#g18)"/><rect x="415.85" y="185.9" width="2.5" height="7.50" fill="url(#g18)"/><rect x="415.85" y="193.9" width="2.5" height="1.10" fill="url(#g18)"/><rect x="415.85" y="195.8" width="2.5" height="1.20" fill="url(#g18)"/><rect x="415.85" y="197.8" width="2.5" height="7.50" fill="url(#g18)"/><rect x="415.85" y="205.6" width="2.5" height="1.30" fill="url(#g18)"/><rect x="415.85" y="207.3" width="2.5" height="1.50" fill="url(#g18)"/><rect x="415.85" y="209.2" width="2.5" height="7.10" fill="url(#g18)"/><rect x="415.85" y="216.8" width="2.5" height="1.20" fill="url(#g18)"/><rect x="415.85" y="218.9" width="2.5" height="1.20" fill="url(#g18)"/><rect x="415.85" y="221.1" width="2.5" height="15.80" fill="url(#g18)"/><rect x="420.37" y="171" width="2.5" height="65.9" fill="url(#g19)" opacity="0.18"/><rect x="420.37" y="171.0" width="2.5" height="1.20" fill="url(#g19)"/><rect x="420.37" y="172.9" width="2.5" height="1.20" fill="url(#g19)"/><rect x="420.37" y="174.9" width="2.5" height="6.60" fill="url(#g19)"/><rect x="420.37" y="182.0" width="2.5" height="1.20" fill="url(#g19)"/><rect x="420.37" y="184.0" width="2.5" height="1.10" fill="url(#g19)"/><rect x="420.37" y="185.9" width="2.5" height="7.50" fill="url(#g19)"/><rect x="420.37" y="193.9" width="2.5" height="1.10" fill="url(#g19)"/><rect x="420.37" y="195.8" width="2.5" height="1.20" fill="url(#g19)"/><rect x="420.37" y="197.8" width="2.5" height="7.50" fill="url(#g19)"/><rect x="420.37" y="205.6" width="2.5" height="1.30" fill="url(#g19)"/><rect x="420.37" y="207.3" width="2.5" height="1.50" fill="url(#g19)"/><rect x="420.37" y="209.2" width="2.5" height="7.10" fill="url(#g19)"/><rect x="420.37" y="216.8" width="2.5" height="1.20" fill="url(#g19)"/><rect x="420.37" y="218.9" width="2.5" height="1.20" fill="url(#g19)"/><rect x="420.37" y="221.1" width="2.5" height="15.80" fill="url(#g19)"/><rect x="424.88" y="171" width="2.5" height="65.9" fill="url(#g20)" opacity="0.18"/><rect x="424.88" y="171.0" width="2.5" height="1.20" fill="url(#g20)"/><rect x="424.88" y="172.9" width="2.5" height="1.20" fill="url(#g20)"/><rect x="424.88" y="174.9" width="2.5" height="6.60" fill="url(#g20)"/><rect x="424.88" y="182.0" width="2.5" height="1.20" fill="url(#g20)"/><rect x="424.88" y="184.0" width="2.5" height="1.10" fill="url(#g20)"/><rect x="424.88" y="185.9" width="2.5" height="7.50" fill="url(#g20)"/><rect x="424.88" y="193.9" width="2.5" height="1.10" fill="url(#g20)"/><rect x="424.88" y="195.8" width="2.5" height="1.20" fill="url(#g20)"/><rect x="424.88" y="197.8" width="2.5" height="7.50" fill="url(#g20)"/><rect x="424.88" y="205.6" width="2.5" height="1.30" fill="url(#g20)"/><rect x="424.88" y="207.3" width="2.5" height="1.50" fill="url(#g20)"/><rect x="424.88" y="209.2" width="2.5" height="7.10" fill="url(#g20)"/><rect x="424.88" y="216.8" width="2.5" height="1.20" fill="url(#g20)"/><rect x="424.88" y="218.9" width="2.5" height="1.20" fill="url(#g20)"/><rect x="424.88" y="221.1" width="2.5" height="15.80" fill="url(#g20)"/><rect x="429.40" y="171" width="2.5" height="65.9" fill="url(#g21)" opacity="0.18"/><rect x="429.40" y="171.0" width="2.5" height="1.20" fill="url(#g21)"/><rect x="429.40" y="172.9" width="2.5" height="1.20" fill="url(#g21)"/><rect x="429.40" y="174.9" width="2.5" height="6.60" fill="url(#g21)"/><rect x="429.40" y="182.0" width="2.5" height="1.20" fill="url(#g21)"/><rect x="429.40" y="184.0" width="2.5" height="1.10" fill="url(#g21)"/><rect x="429.40" y="185.9" width="2.5" height="7.50" fill="url(#g21)"/><rect x="429.40" y="193.9" width="2.5" height="1.10" fill="url(#g21)"/><rect x="429.40" y="195.8" width="2.5" height="1.20" fill="url(#g21)"/><rect x="429.40" y="197.8" width="2.5" height="7.50" fill="url(#g21)"/><rect x="429.40" y="205.6" width="2.5" height="1.30" fill="url(#g21)"/><rect x="429.40" y="207.3" width="2.5" height="1.50" fill="url(#g21)"/><rect x="429.40" y="209.2" width="2.5" height="7.10" fill="url(#g21)"/><rect x="429.40" y="216.8" width="2.5" height="1.20" fill="url(#g21)"/><rect x="429.40" y="218.9" width="2.5" height="1.20" fill="url(#g21)"/><rect x="429.40" y="221.1" width="2.5" height="15.80" fill="url(#g21)"/><rect x="433.92" y="171" width="2.5" height="65.9" fill="url(#g22)" opacity="0.18"/><rect x="433.92" y="171.0" width="2.5" height="1.20" fill="url(#g22)"/><rect x="433.92" y="172.9" width="2.5" height="1.20" fill="url(#g22)"/><rect x="433.92" y="174.9" width="2.5" height="6.60" fill="url(#g22)"/><rect x="433.92" y="182.0" width="2.5" height="1.20" fill="url(#g22)"/><rect x="433.92" y="184.0" width="2.5" height="1.10" fill="url(#g22)"/><rect x="433.92" y="185.9" width="2.5" height="7.50" fill="url(#g22)"/><rect x="433.92" y="193.9" width="2.5" height="1.10" fill="url(#g22)"/><rect x="433.92" y="195.8" width="2.5" height="1.20" fill="url(#g22)"/><rect x="433.92" y="197.8" width="2.5" height="7.50" fill="url(#g22)"/><rect x="433.92" y="205.6" width="2.5" height="1.30" fill="url(#g22)"/><rect x="433.92" y="207.3" width="2.5" height="1.50" fill="url(#g22)"/><rect x="433.92" y="209.2" width="2.5" height="7.10" fill="url(#g22)"/><rect x="433.92" y="216.8" width="2.5" height="1.20" fill="url(#g22)"/><rect x="433.92" y="218.9" width="2.5" height="1.20" fill="url(#g22)"/><rect x="433.92" y="221.1" width="2.5" height="15.80" fill="url(#g22)"/><rect x="438.43" y="171" width="2.5" height="65.9" fill="url(#g23)" opacity="0.18"/><rect x="438.43" y="171.0" width="2.5" height="1.20" fill="url(#g23)"/><rect x="438.43" y="172.9" width="2.5" height="1.20" fill="url(#g23)"/><rect x="438.43" y="174.9" width="2.5" height="6.60" fill="url(#g23)"/><rect x="438.43" y="182.0" width="2.5" height="1.20" fill="url(#g23)"/><rect x="438.43" y="184.0" width="2.5" height="1.10" fill="url(#g23)"/><rect x="438.43" y="185.9" width="2.5" height="7.50" fill="url(#g23)"/><rect x="438.43" y="193.9" width="2.5" height="1.10" fill="url(#g23)"/><rect x="438.43" y="195.8" width="2.5" height="1.20" fill="url(#g23)"/><rect x="438.43" y="197.8" width="2.5" height="7.50" fill="url(#g23)"/><rect x="438.43" y="205.6" width="2.5" height="1.30" fill="url(#g23)"/><rect x="438.43" y="207.3" width="2.5" height="1.50" fill="url(#g23)"/><rect x="438.43" y="209.2" width="2.5" height="7.10" fill="url(#g23)"/><rect x="438.43" y="216.8" width="2.5" height="1.20" fill="url(#g23)"/><rect x="438.43" y="218.9" width="2.5" height="1.20" fill="url(#g23)"/><rect x="438.43" y="221.1" width="2.5" height="15.80" fill="url(#g23)"/><rect x="442.95" y="171" width="2.5" height="65.9" fill="url(#g24)" opacity="0.18"/><rect x="442.95" y="171.0" width="2.5" height="1.20" fill="url(#g24)"/><rect x="442.95" y="172.9" width="2.5" height="1.20" fill="url(#g24)"/><rect x="442.95" y="174.9" width="2.5" height="6.60" fill="url(#g24)"/><rect x="442.95" y="182.0" width="2.5" height="1.20" fill="url(#g24)"/><rect x="442.95" y="184.0" width="2.5" height="1.10" fill="url(#g24)"/><rect x="442.95" y="185.9" width="2.5" height="7.50" fill="url(#g24)"/><rect x="442.95" y="193.9" width="2.5" height="1.10" fill="url(#g24)"/><rect x="442.95" y="195.8" width="2.5" height="1.20" fill="url(#g24)"/><rect x="442.95" y="197.8" width="2.5" height="7.50" fill="url(#g24)"/><rect x="442.95" y="205.6" width="2.5" height="1.30" fill="url(#g24)"/><rect x="442.95" y="207.3" width="2.5" height="1.50" fill="url(#g24)"/><rect x="442.95" y="209.2" width="2.5" height="7.10" fill="url(#g24)"/><rect x="442.95" y="216.8" width="2.5" height="1.20" fill="url(#g24)"/><rect x="442.95" y="218.9" width="2.5" height="1.20" fill="url(#g24)"/><rect x="442.95" y="221.1" width="2.5" height="15.80" fill="url(#g24)"/><rect x="447.47" y="171" width="2.5" height="65.9" fill="url(#g25)" opacity="0.18"/><rect x="447.47" y="171.0" width="2.5" height="1.20" fill="url(#g25)"/><rect x="447.47" y="172.9" width="2.5" height="1.20" fill="url(#g25)"/><rect x="447.47" y="174.9" width="2.5" height="6.60" fill="url(#g25)"/><rect x="447.47" y="182.0" width="2.5" height="1.20" fill="url(#g25)"/><rect x="447.47" y="184.0" width="2.5" height="1.10" fill="url(#g25)"/><rect x="447.47" y="185.9" width="2.5" height="7.50" fill="url(#g25)"/><rect x="447.47" y="193.9" width="2.5" height="1.10" fill="url(#g25)"/><rect x="447.47" y="195.8" width="2.5" height="1.20" fill="url(#g25)"/><rect x="447.47" y="197.8" width="2.5" height="7.50" fill="url(#g25)"/><rect x="447.47" y="205.6" width="2.5" height="1.30" fill="url(#g25)"/><rect x="447.47" y="207.3" width="2.5" height="1.50" fill="url(#g25)"/><rect x="447.47" y="209.2" width="2.5" height="7.10" fill="url(#g25)"/><rect x="447.47" y="216.8" width="2.5" height="1.20" fill="url(#g25)"/><rect x="447.47" y="218.9" width="2.5" height="1.20" fill="url(#g25)"/><rect x="447.47" y="221.1" width="2.5" height="15.80" fill="url(#g25)"/><rect x="451.98" y="171" width="2.5" height="65.9" fill="url(#g26)" opacity="0.18"/><rect x="451.98" y="171.0" width="2.5" height="1.20" fill="url(#g26)"/><rect x="451.98" y="172.9" width="2.5" height="1.20" fill="url(#g26)"/><rect x="451.98" y="174.9" width="2.5" height="6.60" fill="url(#g26)"/><rect x="451.98" y="182.0" width="2.5" height="1.20" fill="url(#g26)"/><rect x="451.98" y="184.0" width="2.5" height="1.10" fill="url(#g26)"/><rect x="451.98" y="185.9" width="2.5" height="7.50" fill="url(#g26)"/><rect x="451.98" y="193.9" width="2.5" height="1.10" fill="url(#g26)"/><rect x="451.98" y="195.8" width="2.5" height="1.20" fill="url(#g26)"/><rect x="451.98" y="197.8" width="2.5" height="7.50" fill="url(#g26)"/><rect x="451.98" y="205.6" width="2.5" height="1.30" fill="url(#g26)"/><rect x="451.98" y="207.3" width="2.5" height="1.50" fill="url(#g26)"/><rect x="451.98" y="209.2" width="2.5" height="7.10" fill="url(#g26)"/><rect x="451.98" y="216.8" width="2.5" height="1.20" fill="url(#g26)"/><rect x="451.98" y="218.9" width="2.5" height="1.20" fill="url(#g26)"/><rect x="451.98" y="221.1" width="2.5" height="15.80" fill="url(#g26)"/><rect x="456.50" y="171" width="2.5" height="65.9" fill="url(#g27)" opacity="0.18"/><rect x="456.50" y="171.0" width="2.5" height="1.20" fill="url(#g27)"/><rect x="456.50" y="172.9" width="2.5" height="1.20" fill="url(#g27)"/><rect x="456.50" y="174.9" width="2.5" height="6.60" fill="url(#g27)"/><rect x="456.50" y="182.0" width="2.5" height="1.20" fill="url(#g27)"/><rect x="456.50" y="184.0" width="2.5" height="1.10" fill="url(#g27)"/><rect x="456.50" y="185.9" width="2.5" height="7.50" fill="url(#g27)"/><rect x="456.50" y="193.9" width="2.5" height="1.10" fill="url(#g27)"/><rect x="456.50" y="195.8" width="2.5" height="1.20" fill="url(#g27)"/><rect x="456.50" y="197.8" width="2.5" height="7.50" fill="url(#g27)"/><rect x="456.50" y="205.6" width="2.5" height="1.30" fill="url(#g27)"/><rect x="456.50" y="207.3" width="2.5" height="1.50" fill="url(#g27)"/><rect x="456.50" y="209.2" width="2.5" height="7.10" fill="url(#g27)"/><rect x="456.50" y="216.8" width="2.5" height="1.20" fill="url(#g27)"/><rect x="456.50" y="218.9" width="2.5" height="1.20" fill="url(#g27)"/><rect x="456.50" y="221.1" width="2.5" height="15.80" fill="url(#g27)"/><rect x="461.02" y="171" width="2.5" height="65.9" fill="url(#g28)" opacity="0.18"/><rect x="461.02" y="171.0" width="2.5" height="1.20" fill="url(#g28)"/><rect x="461.02" y="172.9" width="2.5" height="1.20" fill="url(#g28)"/><rect x="461.02" y="174.9" width="2.5" height="6.60" fill="url(#g28)"/><rect x="461.02" y="182.0" width="2.5" height="1.20" fill="url(#g28)"/><rect x="461.02" y="184.0" width="2.5" height="1.10" fill="url(#g28)"/><rect x="461.02" y="185.9" width="2.5" height="7.50" fill="url(#g28)"/><rect x="461.02" y="193.9" width="2.5" height="1.10" fill="url(#g28)"/><rect x="461.02" y="195.8" width="2.5" height="1.20" fill="url(#g28)"/><rect x="461.02" y="197.8" width="2.5" height="7.50" fill="url(#g28)"/><rect x="461.02" y="205.6" width="2.5" height="1.30" fill="url(#g28)"/><rect x="461.02" y="207.3" width="2.5" height="1.50" fill="url(#g28)"/><rect x="461.02" y="209.2" width="2.5" height="7.10" fill="url(#g28)"/><rect x="461.02" y="216.8" width="2.5" height="1.20" fill="url(#g28)"/><rect x="461.02" y="218.9" width="2.5" height="1.20" fill="url(#g28)"/><rect x="461.02" y="221.1" width="2.5" height="15.80" fill="url(#g28)"/><rect x="465.53" y="171" width="2.5" height="65.9" fill="url(#g29)" opacity="0.18"/><rect x="465.53" y="171.0" width="2.5" height="1.20" fill="url(#g29)"/><rect x="465.53" y="172.9" width="2.5" height="1.20" fill="url(#g29)"/><rect x="465.53" y="174.9" width="2.5" height="6.60" fill="url(#g29)"/><rect x="465.53" y="182.0" width="2.5" height="1.20" fill="url(#g29)"/><rect x="465.53" y="184.0" width="2.5" height="1.10" fill="url(#g29)"/><rect x="465.53" y="185.9" width="2.5" height="7.50" fill="url(#g29)"/><rect x="465.53" y="193.9" width="2.5" height="1.10" fill="url(#g29)"/><rect x="465.53" y="195.8" width="2.5" height="1.20" fill="url(#g29)"/><rect x="465.53" y="197.8" width="2.5" height="7.50" fill="url(#g29)"/><rect x="465.53" y="205.6" width="2.5" height="1.30" fill="url(#g29)"/><rect x="465.53" y="207.3" width="2.5" height="1.50" fill="url(#g29)"/><rect x="465.53" y="209.2" width="2.5" height="7.10" fill="url(#g29)"/><rect x="465.53" y="216.8" width="2.5" height="1.20" fill="url(#g29)"/><rect x="465.53" y="218.9" width="2.5" height="1.20" fill="url(#g29)"/><rect x="465.53" y="221.1" width="2.5" height="15.80" fill="url(#g29)"/><rect x="470.05" y="171" width="2.5" height="65.9" fill="url(#g30)" opacity="0.18"/><rect x="470.05" y="171.0" width="2.5" height="1.20" fill="url(#g30)"/><rect x="470.05" y="172.9" width="2.5" height="1.20" fill="url(#g30)"/><rect x="470.05" y="174.9" width="2.5" height="6.60" fill="url(#g30)"/><rect x="470.05" y="182.0" width="2.5" height="1.20" fill="url(#g30)"/><rect x="470.05" y="184.0" width="2.5" height="1.10" fill="url(#g30)"/><rect x="470.05" y="185.9" width="2.5" height="7.50" fill="url(#g30)"/><rect x="470.05" y="193.9" width="2.5" height="1.10" fill="url(#g30)"/><rect x="470.05" y="195.8" width="2.5" height="1.20" fill="url(#g30)"/><rect x="470.05" y="197.8" width="2.5" height="7.50" fill="url(#g30)"/><rect x="470.05" y="205.6" width="2.5" height="1.30" fill="url(#g30)"/><rect x="470.05" y="207.3" width="2.5" height="1.50" fill="url(#g30)"/><rect x="470.05" y="209.2" width="2.5" height="7.10" fill="url(#g30)"/><rect x="470.05" y="216.8" width="2.5" height="1.20" fill="url(#g30)"/><rect x="470.05" y="218.9" width="2.5" height="1.20" fill="url(#g30)"/><rect x="470.05" y="221.1" width="2.5" height="15.80" fill="url(#g30)"/><rect x="474.57" y="171" width="2.5" height="65.9" fill="url(#g31)" opacity="0.18"/><rect x="474.57" y="171.0" width="2.5" height="1.20" fill="url(#g31)"/><rect x="474.57" y="172.9" width="2.5" height="1.20" fill="url(#g31)"/><rect x="474.57" y="174.9" width="2.5" height="6.60" fill="url(#g31)"/><rect x="474.57" y="182.0" width="2.5" height="1.20" fill="url(#g31)"/><rect x="474.57" y="184.0" width="2.5" height="1.10" fill="url(#g31)"/><rect x="474.57" y="185.9" width="2.5" height="7.50" fill="url(#g31)"/><rect x="474.57" y="193.9" width="2.5" height="1.10" fill="url(#g31)"/><rect x="474.57" y="195.8" width="2.5" height="1.20" fill="url(#g31)"/><rect x="474.57" y="197.8" width="2.5" height="7.50" fill="url(#g31)"/><rect x="474.57" y="205.6" width="2.5" height="1.30" fill="url(#g31)"/><rect x="474.57" y="207.3" width="2.5" height="1.50" fill="url(#g31)"/><rect x="474.57" y="209.2" width="2.5" height="7.10" fill="url(#g31)"/><rect x="474.57" y="216.8" width="2.5" height="1.20" fill="url(#g31)"/><rect x="474.57" y="218.9" width="2.5" height="1.20" fill="url(#g31)"/><rect x="474.57" y="221.1" width="2.5" height="15.80" fill="url(#g31)"/><rect x="479.08" y="171" width="2.5" height="65.9" fill="url(#g32)" opacity="0.18"/><rect x="479.08" y="171.0" width="2.5" height="1.20" fill="url(#g32)"/><rect x="479.08" y="172.9" width="2.5" height="1.20" fill="url(#g32)"/><rect x="479.08" y="174.9" width="2.5" height="6.60" fill="url(#g32)"/><rect x="479.08" y="182.0" width="2.5" height="1.20" fill="url(#g32)"/><rect x="479.08" y="184.0" width="2.5" height="1.10" fill="url(#g32)"/><rect x="479.08" y="185.9" width="2.5" height="7.50" fill="url(#g32)"/><rect x="479.08" y="193.9" width="2.5" height="1.10" fill="url(#g32)"/><rect x="479.08" y="195.8" width="2.5" height="1.20" fill="url(#g32)"/><rect x="479.08" y="197.8" width="2.5" height="7.50" fill="url(#g32)"/><rect x="479.08" y="205.6" width="2.5" height="1.30" fill="url(#g32)"/><rect x="479.08" y="207.3" width="2.5" height="1.50" fill="url(#g32)"/><rect x="479.08" y="209.2" width="2.5" height="7.10" fill="url(#g32)"/><rect x="479.08" y="216.8" width="2.5" height="1.20" fill="url(#g32)"/><rect x="479.08" y="218.9" width="2.5" height="1.20" fill="url(#g32)"/><rect x="479.08" y="221.1" width="2.5" height="15.80" fill="url(#g32)"/><rect x="483.60" y="171" width="2.5" height="65.9" fill="url(#g33)" opacity="0.18"/><rect x="483.60" y="171.0" width="2.5" height="1.20" fill="url(#g33)"/><rect x="483.60" y="172.9" width="2.5" height="1.20" fill="url(#g33)"/><rect x="483.60" y="174.9" width="2.5" height="6.60" fill="url(#g33)"/><rect x="483.60" y="182.0" width="2.5" height="1.20" fill="url(#g33)"/><rect x="483.60" y="184.0" width="2.5" height="1.10" fill="url(#g33)"/><rect x="483.60" y="185.9" width="2.5" height="7.50" fill="url(#g33)"/><rect x="483.60" y="193.9" width="2.5" height="1.10" fill="url(#g33)"/><rect x="483.60" y="195.8" width="2.5" height="1.20" fill="url(#g33)"/><rect x="483.60" y="197.8" width="2.5" height="7.50" fill="url(#g33)"/><rect x="483.60" y="205.6" width="2.5" height="1.30" fill="url(#g33)"/><rect x="483.60" y="207.3" width="2.5" height="1.50" fill="url(#g33)"/><rect x="483.60" y="209.2" width="2.5" height="7.10" fill="url(#g33)"/><rect x="483.60" y="216.8" width="2.5" height="1.20" fill="url(#g33)"/><rect x="483.60" y="218.9" width="2.5" height="1.20" fill="url(#g33)"/><rect x="483.60" y="221.1" width="2.5" height="15.80" fill="url(#g33)"/><rect x="488.12" y="171" width="2.5" height="65.9" fill="url(#g34)" opacity="0.18"/><rect x="488.12" y="171.0" width="2.5" height="1.20" fill="url(#g34)"/><rect x="488.12" y="172.9" width="2.5" height="1.20" fill="url(#g34)"/><rect x="488.12" y="174.9" width="2.5" height="6.60" fill="url(#g34)"/><rect x="488.12" y="182.0" width="2.5" height="1.20" fill="url(#g34)"/><rect x="488.12" y="184.0" width="2.5" height="1.10" fill="url(#g34)"/><rect x="488.12" y="185.9" width="2.5" height="7.50" fill="url(#g34)"/><rect x="488.12" y="193.9" width="2.5" height="1.10" fill="url(#g34)"/><rect x="488.12" y="195.8" width="2.5" height="1.20" fill="url(#g34)"/><rect x="488.12" y="197.8" width="2.5" height="7.50" fill="url(#g34)"/><rect x="488.12" y="205.6" width="2.5" height="1.30" fill="url(#g34)"/><rect x="488.12" y="207.3" width="2.5" height="1.50" fill="url(#g34)"/><rect x="488.12" y="209.2" width="2.5" height="7.10" fill="url(#g34)"/><rect x="488.12" y="216.8" width="2.5" height="1.20" fill="url(#g34)"/><rect x="488.12" y="218.9" width="2.5" height="1.20" fill="url(#g34)"/><rect x="488.12" y="221.1" width="2.5" height="15.80" fill="url(#g34)"/><rect x="492.63" y="171" width="2.5" height="65.9" fill="url(#g35)" opacity="0.18"/><rect x="492.63" y="171.0" width="2.5" height="1.20" fill="url(#g35)"/><rect x="492.63" y="172.9" width="2.5" height="1.20" fill="url(#g35)"/><rect x="492.63" y="174.9" width="2.5" height="6.60" fill="url(#g35)"/><rect x="492.63" y="182.0" width="2.5" height="1.20" fill="url(#g35)"/><rect x="492.63" y="184.0" width="2.5" height="1.10" fill="url(#g35)"/><rect x="492.63" y="185.9" width="2.5" height="7.50" fill="url(#g35)"/><rect x="492.63" y="193.9" width="2.5" height="1.10" fill="url(#g35)"/><rect x="492.63" y="195.8" width="2.5" height="1.20" fill="url(#g35)"/><rect x="492.63" y="197.8" width="2.5" height="7.50" fill="url(#g35)"/><rect x="492.63" y="205.6" width="2.5" height="1.30" fill="url(#g35)"/><rect x="492.63" y="207.3" width="2.5" height="1.50" fill="url(#g35)"/><rect x="492.63" y="209.2" width="2.5" height="7.10" fill="url(#g35)"/><rect x="492.63" y="216.8" width="2.5" height="1.20" fill="url(#g35)"/><rect x="492.63" y="218.9" width="2.5" height="1.20" fill="url(#g35)"/><rect x="492.63" y="221.1" width="2.5" height="15.80" fill="url(#g35)"/><rect x="497.15" y="171" width="2.5" height="65.9" fill="url(#g36)" opacity="0.18"/><rect x="497.15" y="171.0" width="2.5" height="1.20" fill="url(#g36)"/><rect x="497.15" y="172.9" width="2.5" height="1.20" fill="url(#g36)"/><rect x="497.15" y="174.9" width="2.5" height="6.60" fill="url(#g36)"/><rect x="497.15" y="182.0" width="2.5" height="1.20" fill="url(#g36)"/><rect x="497.15" y="184.0" width="2.5" height="1.10" fill="url(#g36)"/><rect x="497.15" y="185.9" width="2.5" height="7.50" fill="url(#g36)"/><rect x="497.15" y="193.9" width="2.5" height="1.10" fill="url(#g36)"/><rect x="497.15" y="195.8" width="2.5" height="1.20" fill="url(#g36)"/><rect x="497.15" y="197.8" width="2.5" height="7.50" fill="url(#g36)"/><rect x="497.15" y="205.6" width="2.5" height="1.30" fill="url(#g36)"/><rect x="497.15" y="207.3" width="2.5" height="1.50" fill="url(#g36)"/><rect x="497.15" y="209.2" width="2.5" height="7.10" fill="url(#g36)"/><rect x="497.15" y="216.8" width="2.5" height="1.20" fill="url(#g36)"/><rect x="497.15" y="218.9" width="2.5" height="1.20" fill="url(#g36)"/><rect x="497.15" y="221.1" width="2.5" height="15.80" fill="url(#g36)"/><rect x="501.67" y="171" width="2.5" height="65.9" fill="url(#g37)" opacity="0.18"/><rect x="501.67" y="171.0" width="2.5" height="1.20" fill="url(#g37)"/><rect x="501.67" y="172.9" width="2.5" height="1.20" fill="url(#g37)"/><rect x="501.67" y="174.9" width="2.5" height="6.60" fill="url(#g37)"/><rect x="501.67" y="182.0" width="2.5" height="1.20" fill="url(#g37)"/><rect x="501.67" y="184.0" width="2.5" height="1.10" fill="url(#g37)"/><rect x="501.67" y="185.9" width="2.5" height="7.50" fill="url(#g37)"/><rect x="501.67" y="193.9" width="2.5" height="1.10" fill="url(#g37)"/><rect x="501.67" y="195.8" width="2.5" height="1.20" fill="url(#g37)"/><rect x="501.67" y="197.8" width="2.5" height="7.50" fill="url(#g37)"/><rect x="501.67" y="205.6" width="2.5" height="1.30" fill="url(#g37)"/><rect x="501.67" y="207.3" width="2.5" height="1.50" fill="url(#g37)"/><rect x="501.67" y="209.2" width="2.5" height="7.10" fill="url(#g37)"/><rect x="501.67" y="216.8" width="2.5" height="1.20" fill="url(#g37)"/><rect x="501.67" y="218.9" width="2.5" height="1.20" fill="url(#g37)"/><rect x="501.67" y="221.1" width="2.5" height="15.80" fill="url(#g37)"/><rect x="506.18" y="171" width="2.5" height="65.9" fill="url(#g38)" opacity="0.18"/><rect x="506.18" y="171.0" width="2.5" height="1.20" fill="url(#g38)"/><rect x="506.18" y="172.9" width="2.5" height="1.20" fill="url(#g38)"/><rect x="506.18" y="174.9" width="2.5" height="6.60" fill="url(#g38)"/><rect x="506.18" y="182.0" width="2.5" height="1.20" fill="url(#g38)"/><rect x="506.18" y="184.0" width="2.5" height="1.10" fill="url(#g38)"/><rect x="506.18" y="185.9" width="2.5" height="7.50" fill="url(#g38)"/><rect x="506.18" y="193.9" width="2.5" height="1.10" fill="url(#g38)"/><rect x="506.18" y="195.8" width="2.5" height="1.20" fill="url(#g38)"/><rect x="506.18" y="197.8" width="2.5" height="7.50" fill="url(#g38)"/><rect x="506.18" y="205.6" width="2.5" height="1.30" fill="url(#g38)"/><rect x="506.18" y="207.3" width="2.5" height="1.50" fill="url(#g38)"/><rect x="506.18" y="209.2" width="2.5" height="7.10" fill="url(#g38)"/><rect x="506.18" y="216.8" width="2.5" height="1.20" fill="url(#g38)"/><rect x="506.18" y="218.9" width="2.5" height="1.20" fill="url(#g38)"/><rect x="506.18" y="221.1" width="2.5" height="15.80" fill="url(#g38)"/><rect x="510.70" y="171" width="2.5" height="65.9" fill="url(#g39)" opacity="0.18"/><rect x="510.70" y="171.0" width="2.5" height="1.20" fill="url(#g39)"/><rect x="510.70" y="172.9" width="2.5" height="1.20" fill="url(#g39)"/><rect x="510.70" y="174.9" width="2.5" height="6.60" fill="url(#g39)"/><rect x="510.70" y="182.0" width="2.5" height="1.20" fill="url(#g39)"/><rect x="510.70" y="184.0" width="2.5" height="1.10" fill="url(#g39)"/><rect x="510.70" y="185.9" width="2.5" height="7.50" fill="url(#g39)"/><rect x="510.70" y="193.9" width="2.5" height="1.10" fill="url(#g39)"/><rect x="510.70" y="195.8" width="2.5" height="1.20" fill="url(#g39)"/><rect x="510.70" y="197.8" width="2.5" height="7.50" fill="url(#g39)"/><rect x="510.70" y="205.6" width="2.5" height="1.30" fill="url(#g39)"/><rect x="510.70" y="207.3" width="2.5" height="1.50" fill="url(#g39)"/><rect x="510.70" y="209.2" width="2.5" height="7.10" fill="url(#g39)"/><rect x="510.70" y="216.8" width="2.5" height="1.20" fill="url(#g39)"/><rect x="510.70" y="218.9" width="2.5" height="1.20" fill="url(#g39)"/><rect x="510.70" y="221.1" width="2.5" height="15.80" fill="url(#g39)"/><rect x="515.22" y="171" width="2.5" height="65.9" fill="url(#g40)" opacity="0.18"/><rect x="515.22" y="171.0" width="2.5" height="1.20" fill="url(#g40)"/><rect x="515.22" y="172.9" width="2.5" height="1.20" fill="url(#g40)"/><rect x="515.22" y="174.9" width="2.5" height="6.60" fill="url(#g40)"/><rect x="515.22" y="182.0" width="2.5" height="1.20" fill="url(#g40)"/><rect x="515.22" y="184.0" width="2.5" height="1.10" fill="url(#g40)"/><rect x="515.22" y="185.9" width="2.5" height="7.50" fill="url(#g40)"/><rect x="515.22" y="193.9" width="2.5" height="1.10" fill="url(#g40)"/><rect x="515.22" y="195.8" width="2.5" height="1.20" fill="url(#g40)"/><rect x="515.22" y="197.8" width="2.5" height="7.50" fill="url(#g40)"/><rect x="515.22" y="205.6" width="2.5" height="1.30" fill="url(#g40)"/><rect x="515.22" y="207.3" width="2.5" height="1.50" fill="url(#g40)"/><rect x="515.22" y="209.2" width="2.5" height="7.10" fill="url(#g40)"/><rect x="515.22" y="216.8" width="2.5" height="1.20" fill="url(#g40)"/><rect x="515.22" y="218.9" width="2.5" height="1.20" fill="url(#g40)"/><rect x="515.22" y="221.1" width="2.5" height="15.80" fill="url(#g40)"/><rect x="519.73" y="171" width="2.5" height="65.9" fill="url(#g41)" opacity="0.18"/><rect x="519.73" y="171.0" width="2.5" height="1.20" fill="url(#g41)"/><rect x="519.73" y="172.9" width="2.5" height="1.20" fill="url(#g41)"/><rect x="519.73" y="174.9" width="2.5" height="6.60" fill="url(#g41)"/><rect x="519.73" y="182.0" width="2.5" height="1.20" fill="url(#g41)"/><rect x="519.73" y="184.0" width="2.5" height="1.10" fill="url(#g41)"/><rect x="519.73" y="185.9" width="2.5" height="7.50" fill="url(#g41)"/><rect x="519.73" y="193.9" width="2.5" height="1.10" fill="url(#g41)"/><rect x="519.73" y="195.8" width="2.5" height="1.20" fill="url(#g41)"/><rect x="519.73" y="197.8" width="2.5" height="7.50" fill="url(#g41)"/><rect x="519.73" y="205.6" width="2.5" height="1.30" fill="url(#g41)"/><rect x="519.73" y="207.3" width="2.5" height="1.50" fill="url(#g41)"/><rect x="519.73" y="209.2" width="2.5" height="7.10" fill="url(#g41)"/><rect x="519.73" y="216.8" width="2.5" height="1.20" fill="url(#g41)"/><rect x="519.73" y="218.9" width="2.5" height="1.20" fill="url(#g41)"/><rect x="519.73" y="221.1" width="2.5" height="15.80" fill="url(#g41)"/><rect x="524.25" y="171" width="2.5" height="65.9" fill="url(#g42)" opacity="0.18"/><rect x="524.25" y="171.0" width="2.5" height="1.20" fill="url(#g42)"/><rect x="524.25" y="172.9" width="2.5" height="1.20" fill="url(#g42)"/><rect x="524.25" y="174.9" width="2.5" height="6.60" fill="url(#g42)"/><rect x="524.25" y="182.0" width="2.5" height="1.20" fill="url(#g42)"/><rect x="524.25" y="184.0" width="2.5" height="1.10" fill="url(#g42)"/><rect x="524.25" y="185.9" width="2.5" height="7.50" fill="url(#g42)"/><rect x="524.25" y="193.9" width="2.5" height="1.10" fill="url(#g42)"/><rect x="524.25" y="195.8" width="2.5" height="1.20" fill="url(#g42)"/><rect x="524.25" y="197.8" width="2.5" height="7.50" fill="url(#g42)"/><rect x="524.25" y="205.6" width="2.5" height="1.30" fill="url(#g42)"/><rect x="524.25" y="207.3" width="2.5" height="1.50" fill="url(#g42)"/><rect x="524.25" y="209.2" width="2.5" height="7.10" fill="url(#g42)"/><rect x="524.25" y="216.8" width="2.5" height="1.20" fill="url(#g42)"/><rect x="524.25" y="218.9" width="2.5" height="1.20" fill="url(#g42)"/><rect x="524.25" y="221.1" width="2.5" height="15.80" fill="url(#g42)"/><rect x="528.77" y="171" width="2.5" height="65.9" fill="url(#g43)" opacity="0.18"/><rect x="528.77" y="171.0" width="2.5" height="1.20" fill="url(#g43)"/><rect x="528.77" y="172.9" width="2.5" height="1.20" fill="url(#g43)"/><rect x="528.77" y="174.9" width="2.5" height="6.60" fill="url(#g43)"/><rect x="528.77" y="182.0" width="2.5" height="1.20" fill="url(#g43)"/><rect x="528.77" y="184.0" width="2.5" height="1.10" fill="url(#g43)"/><rect x="528.77" y="185.9" width="2.5" height="7.50" fill="url(#g43)"/><rect x="528.77" y="193.9" width="2.5" height="1.10" fill="url(#g43)"/><rect x="528.77" y="195.8" width="2.5" height="1.20" fill="url(#g43)"/><rect x="528.77" y="197.8" width="2.5" height="7.50" fill="url(#g43)"/><rect x="528.77" y="205.6" width="2.5" height="1.30" fill="url(#g43)"/><rect x="528.77" y="207.3" width="2.5" height="1.50" fill="url(#g43)"/><rect x="528.77" y="209.2" width="2.5" height="7.10" fill="url(#g43)"/><rect x="528.77" y="216.8" width="2.5" height="1.20" fill="url(#g43)"/><rect x="528.77" y="218.9" width="2.5" height="1.20" fill="url(#g43)"/><rect x="528.77" y="221.1" width="2.5" height="15.80" fill="url(#g43)"/><rect x="533.28" y="171" width="2.5" height="65.9" fill="url(#g44)" opacity="0.18"/><rect x="533.28" y="171.0" width="2.5" height="1.20" fill="url(#g44)"/><rect x="533.28" y="172.9" width="2.5" height="1.20" fill="url(#g44)"/><rect x="533.28" y="174.9" width="2.5" height="6.60" fill="url(#g44)"/><rect x="533.28" y="182.0" width="2.5" height="1.20" fill="url(#g44)"/><rect x="533.28" y="184.0" width="2.5" height="1.10" fill="url(#g44)"/><rect x="533.28" y="185.9" width="2.5" height="7.50" fill="url(#g44)"/><rect x="533.28" y="193.9" width="2.5" height="1.10" fill="url(#g44)"/><rect x="533.28" y="195.8" width="2.5" height="1.20" fill="url(#g44)"/><rect x="533.28" y="197.8" width="2.5" height="7.50" fill="url(#g44)"/><rect x="533.28" y="205.6" width="2.5" height="1.30" fill="url(#g44)"/><rect x="533.28" y="207.3" width="2.5" height="1.50" fill="url(#g44)"/><rect x="533.28" y="209.2" width="2.5" height="7.10" fill="url(#g44)"/><rect x="533.28" y="216.8" width="2.5" height="1.20" fill="url(#g44)"/><rect x="533.28" y="218.9" width="2.5" height="1.20" fill="url(#g44)"/><rect x="533.28" y="221.1" width="2.5" height="15.80" fill="url(#g44)"/><rect x="537.80" y="171" width="2.5" height="65.9" fill="url(#g45)" opacity="0.18"/><rect x="537.80" y="171.0" width="2.5" height="1.20" fill="url(#g45)"/><rect x="537.80" y="172.9" width="2.5" height="1.20" fill="url(#g45)"/><rect x="537.80" y="174.9" width="2.5" height="6.60" fill="url(#g45)"/><rect x="537.80" y="182.0" width="2.5" height="1.20" fill="url(#g45)"/><rect x="537.80" y="184.0" width="2.5" height="1.10" fill="url(#g45)"/><rect x="537.80" y="185.9" width="2.5" height="7.50" fill="url(#g45)"/><rect x="537.80" y="193.9" width="2.5" height="1.10" fill="url(#g45)"/><rect x="537.80" y="195.8" width="2.5" height="1.20" fill="url(#g45)"/><rect x="537.80" y="197.8" width="2.5" height="7.50" fill="url(#g45)"/><rect x="537.80" y="205.6" width="2.5" height="1.30" fill="url(#g45)"/><rect x="537.80" y="207.3" width="2.5" height="1.50" fill="url(#g45)"/><rect x="537.80" y="209.2" width="2.5" height="7.10" fill="url(#g45)"/><rect x="537.80" y="216.8" width="2.5" height="1.20" fill="url(#g45)"/><rect x="537.80" y="218.9" width="2.5" height="1.20" fill="url(#g45)"/><rect x="537.80" y="221.1" width="2.5" height="15.80" fill="url(#g45)"/><rect x="542.32" y="171" width="2.5" height="65.9" fill="url(#g46)" opacity="0.18"/><rect x="542.32" y="171.0" width="2.5" height="1.20" fill="url(#g46)"/><rect x="542.32" y="172.9" width="2.5" height="1.20" fill="url(#g46)"/><rect x="542.32" y="174.9" width="2.5" height="6.60" fill="url(#g46)"/><rect x="542.32" y="182.0" width="2.5" height="1.20" fill="url(#g46)"/><rect x="542.32" y="184.0" width="2.5" height="1.10" fill="url(#g46)"/><rect x="542.32" y="185.9" width="2.5" height="7.50" fill="url(#g46)"/><rect x="542.32" y="193.9" width="2.5" height="1.10" fill="url(#g46)"/><rect x="542.32" y="195.8" width="2.5" height="1.20" fill="url(#g46)"/><rect x="542.32" y="197.8" width="2.5" height="7.50" fill="url(#g46)"/><rect x="542.32" y="205.6" width="2.5" height="1.30" fill="url(#g46)"/><rect x="542.32" y="207.3" width="2.5" height="1.50" fill="url(#g46)"/><rect x="542.32" y="209.2" width="2.5" height="7.10" fill="url(#g46)"/><rect x="542.32" y="216.8" width="2.5" height="1.20" fill="url(#g46)"/><rect x="542.32" y="218.9" width="2.5" height="1.20" fill="url(#g46)"/><rect x="542.32" y="221.1" width="2.5" height="15.80" fill="url(#g46)"/><rect x="546.83" y="171" width="2.5" height="65.9" fill="url(#g47)" opacity="0.18"/><rect x="546.83" y="171.0" width="2.5" height="1.20" fill="url(#g47)"/><rect x="546.83" y="172.9" width="2.5" height="1.20" fill="url(#g47)"/><rect x="546.83" y="174.9" width="2.5" height="6.60" fill="url(#g47)"/><rect x="546.83" y="182.0" width="2.5" height="1.20" fill="url(#g47)"/><rect x="546.83" y="184.0" width="2.5" height="1.10" fill="url(#g47)"/><rect x="546.83" y="185.9" width="2.5" height="7.50" fill="url(#g47)"/><rect x="546.83" y="193.9" width="2.5" height="1.10" fill="url(#g47)"/><rect x="546.83" y="195.8" width="2.5" height="1.20" fill="url(#g47)"/><rect x="546.83" y="197.8" width="2.5" height="7.50" fill="url(#g47)"/><rect x="546.83" y="205.6" width="2.5" height="1.30" fill="url(#g47)"/><rect x="546.83" y="207.3" width="2.5" height="1.50" fill="url(#g47)"/><rect x="546.83" y="209.2" width="2.5" height="7.10" fill="url(#g47)"/><rect x="546.83" y="216.8" width="2.5" height="1.20" fill="url(#g47)"/><rect x="546.83" y="218.9" width="2.5" height="1.20" fill="url(#g47)"/><rect x="546.83" y="221.1" width="2.5" height="15.80" fill="url(#g47)"/><rect x="551.35" y="171" width="2.5" height="65.9" fill="url(#g48)" opacity="0.18"/><rect x="551.35" y="171.0" width="2.5" height="1.20" fill="url(#g48)"/><rect x="551.35" y="172.9" width="2.5" height="1.20" fill="url(#g48)"/><rect x="551.35" y="174.9" width="2.5" height="6.60" fill="url(#g48)"/><rect x="551.35" y="182.0" width="2.5" height="1.20" fill="url(#g48)"/><rect x="551.35" y="184.0" width="2.5" height="1.10" fill="url(#g48)"/><rect x="551.35" y="185.9" width="2.5" height="7.50" fill="url(#g48)"/><rect x="551.35" y="193.9" width="2.5" height="1.10" fill="url(#g48)"/><rect x="551.35" y="195.8" width="2.5" height="1.20" fill="url(#g48)"/><rect x="551.35" y="197.8" width="2.5" height="7.50" fill="url(#g48)"/><rect x="551.35" y="205.6" width="2.5" height="1.30" fill="url(#g48)"/><rect x="551.35" y="207.3" width="2.5" height="1.50" fill="url(#g48)"/><rect x="551.35" y="209.2" width="2.5" height="7.10" fill="url(#g48)"/><rect x="551.35" y="216.8" width="2.5" height="1.20" fill="url(#g48)"/><rect x="551.35" y="218.9" width="2.5" height="1.20" fill="url(#g48)"/><rect x="551.35" y="221.1" width="2.5" height="15.80" fill="url(#g48)"/></svg>
<div class="b" style="left:662px;top:80.5px;width:118px;height:526.5px;background:#111111;"></div>
<div class="b" style="left:677.4px;top:100px;width:67.39999999999998px;height:15.400000000000006px;background:#25252d;border-radius:1px;"></div>
<div class="t fS" style="left:680.54px;top:99px;font-size:9.2px;color:#e8e8e8;letter-spacing:-0.078px;">4970.13</div>
<div class="t fC" style="left:747.06px;top:99px;font-size:9.2px;color:#e8e8e8;letter-spacing:0.010px;">(uT)</div>
<div class="b" style="left:680px;top:587.8px;width:68px;height:14.900000000000091px;background:#25252d;border-radius:1px;"></div>
<div class="t fS" style="left:683.12px;top:586px;font-size:9.2px;color:#e8e8e8;letter-spacing:-0.104px;">1373.60</div>
<div class="t fC" style="left:750.04px;top:586px;font-size:9.2px;color:#e8e8e8;letter-spacing:0.137px;">(uT)</div>
<div class="b" style="left:735.8px;top:118.8px;width:24.5px;height:465.09999999999997px;background:linear-gradient(to top,#0d0887 0%,#41049d 10%,#6a00a8 20%,#8f0da4 30%,#b12a90 40%,#cc4778 50%,#e16462 60%,#f2844b 70%,#fca636 80%,#fcce25 90%,#f0f921 100%);"></div>
<div class="t fS" style="right:44.61px;top:187px;font-size:9.2px;color:#e8e8e8;letter-spacing:-0.107px;">4071.00 uT</div>
<div class="t fS" style="right:44.61px;top:342px;font-size:9.2px;color:#e8e8e8;letter-spacing:-0.107px;">3171.87 uT</div>
<div class="t fS" style="right:44.61px;top:498px;font-size:9.2px;color:#e8e8e8;letter-spacing:-0.107px;">2272.73 uT</div>
<div class="b" style="left:2px;top:339.7px;width:660px;height:267.3px;background:#181c20;"></div>
<div class="b" style="left:0px;top:605.8px;width:662px;height:1.2000000000000455px;background:#101214;"></div>
<svg class="b" style="left:0;top:340px" width="662" height="267" viewBox="0 340 662 267"><rect x="84.85" y="365.6" width="1.1" height="204.2" fill="#27303b"/><rect x="140.00" y="365.6" width="1.1" height="204.2" fill="#27303b"/><rect x="195.15" y="365.6" width="1.1" height="204.2" fill="#27303b"/><rect x="250.30" y="365.6" width="1.1" height="204.2" fill="#27303b"/><rect x="305.45" y="365.6" width="1.1" height="204.2" fill="#27303b"/><rect x="360.60" y="365.6" width="1.1" height="204.2" fill="#27303b"/><rect x="415.75" y="365.6" width="1.1" height="204.2" fill="#27303b"/><rect x="470.90" y="365.6" width="1.1" height="204.2" fill="#27303b"/><rect x="526.05" y="365.6" width="1.1" height="204.2" fill="#27303b"/><rect x="70.2" y="375.55" width="467.4" height="1.1" fill="#27303b"/><rect x="70.2" y="397.96" width="467.4" height="1.1" fill="#27303b"/><rect x="70.2" y="420.38" width="467.4" height="1.1" fill="#27303b"/><rect x="70.2" y="442.79" width="467.4" height="1.1" fill="#27303b"/><rect x="70.2" y="465.20" width="467.4" height="1.1" fill="#27303b"/><rect x="70.2" y="487.61" width="467.4" height="1.1" fill="#27303b"/><rect x="70.2" y="510.02" width="467.4" height="1.1" fill="#27303b"/><rect x="70.2" y="532.44" width="467.4" height="1.1" fill="#27303b"/><rect x="70.2" y="554.85" width="467.4" height="1.1" fill="#27303b"/><rect x="85.4" y="518.85" width="441.4" height="1.1" fill="#727272"/><polyline fill="none" stroke="#ff0000" stroke-width="1.9" stroke-linejoin="round" stroke-linecap="butt" points="189.9,519.8 195.3,518 198.8,517.4 203.3,518.9 208.7,517.4 215,518.9 218.6,518.3 223.1,516.5 226.7,518 233.8,518.3 240.1,517.4 246.4,518.9 257.2,518.3 260.8,519.8 279.6,519.8 285,521 289.1,518.7 295.8,521.9 299.4,521.6 303.8,520.5 309.1,521.9 316.3,522.8 321.5,523.4 326.9,521.9 332.3,523.7 339.5,523.7 344.9,522.8 353.9,524.3 361,524.6 368.2,522.8 375.4,524.1 386.2,524.1 398.7,522.3 405.9,524.1 411.3,522.8 416.7,523.4"/><polyline fill="none" stroke="#00ff00" stroke-width="1.9" stroke-linejoin="round" stroke-linecap="butt" points="189.9,514.2 195.3,513.8 198,512.6 206.9,512.4 214.1,510.8 216.8,510.8 220.4,512.2 223.1,511.7 227,509.4 232.1,511.2 237.4,511.2 241.9,510.1 246.4,511.5 251.8,509.4 260.8,509.4 267.1,512.2 270.6,512.2 273.3,510.8 278.7,512.6 287.7,512.4 294.9,514.7 300.3,516.2 308.2,516 317,517.1 322.4,519.2 334.1,519.6 340.4,521.9 345.8,521 352,522.3 361,523.7 368.2,523.2 373.6,522.3 379,522.8 386.2,522.8 389.7,523.7 398.7,523.4 405,522.3 409.5,522.5 415.8,521.9"/><polyline fill="none" stroke="#0000ff" stroke-width="2.0" stroke-linejoin="round" stroke-linecap="butt" points="190,479.7 196.3,475.1 202.6,471 209,467.9 213.5,463.4 221.7,457.9 228,451.6 234.3,446.2 241.6,441.3 247,435.3 251.6,433.1 261.5,423.5 269.7,420.4 276,415.4 281.4,413 285.1,412.6 292.3,409.4 297.8,408.7 303.2,409 308.5,410.8 313,409.6 317.2,409.9 321.7,412.6 327.2,414.8 332.6,418.4 337.1,419 341.7,423 348,426.2 354.3,432.6 360.7,438.9 366.1,442 372.5,448 379.7,454.9 387.9,461.6 392.4,463.9 398.7,469.2 405.1,473.7 410.5,477 416.8,479.7"/><polyline fill="none" stroke="#ffffff" stroke-width="1.9" stroke-linejoin="round" stroke-linecap="butt" points="189.4,474.2 193.6,471.5 198.1,464.6 203.6,463.4 209,457.9 216.2,452.5 219.9,449.8 225.3,441.6 231.6,438 238,432.6 245.2,427.1 252.5,420.8 259.7,414.5 263.3,413.6 269.7,412.1 275.1,407.6 281.4,405.9 288.7,403 294.1,401.8 297.8,402.1 303.2,403.9 315,403.9 319,405.9 323.6,409.6 328.1,411.7 332.6,414.5 336.2,413.6 342.6,419 348.9,422.6 355.3,425.7 361.6,431.3 367.9,436.2 374.3,443.4 381.5,448 388.8,453.4 394.2,457 400.5,464.3 406.9,467.5 412.3,471.9 416.8,473.7"/></svg>
<div class="t fC" style="right:713.03px;top:367px;font-size:8.5px;color:#e6e6e6;letter-spacing:0.294px;">5700</div>
<div class="t fC" style="right:712.80px;top:389px;font-size:8.5px;color:#e6e6e6;letter-spacing:0.474px;">4810</div>
<div class="t fC" style="right:712.91px;top:412px;font-size:8.5px;color:#e6e6e6;letter-spacing:0.335px;">3920</div>
<div class="t fC" style="right:713.00px;top:434px;font-size:8.5px;color:#e6e6e6;letter-spacing:0.304px;">3030</div>
<div class="t fC" style="right:712.81px;top:457px;font-size:8.5px;color:#e6e6e6;letter-spacing:0.403px;">2140</div>
<div class="t fC" style="right:712.74px;top:479px;font-size:8.5px;color:#e6e6e6;letter-spacing:0.443px;">1250</div>
<div class="t fC" style="right:713.70px;top:501px;font-size:8.5px;color:#e6e6e6;">360</div>
<div class="t fC" style="right:713.70px;top:524px;font-size:8.5px;color:#e6e6e6;">-530</div>
<div class="t fC" style="right:713.70px;top:546px;font-size:8.5px;color:#e6e6e6;">-1420</div>
<div class="t fC" style="right:713.70px;top:510px;font-size:8.5px;color:#8c8c8c;">0</div>
<div class="t fC" style="left:-114.63px;width:400px;text-align:center;top:567px;font-size:8.5px;color:#e6e6e6;letter-spacing:0.730px;">100</div>
<div class="t fC" style="left:-59.23px;width:400px;text-align:center;top:567px;font-size:8.5px;color:#e6e6e6;letter-spacing:0.430px;">158.25</div>
<div class="t fC" style="left:-4.14px;width:400px;text-align:center;top:567px;font-size:8.5px;color:#e6e6e6;letter-spacing:0.321px;">216.5</div>
<div class="t fC" style="left:51.22px;width:400px;text-align:center;top:567px;font-size:8.5px;color:#e6e6e6;letter-spacing:0.290px;">274.75</div>
<div class="t fC" style="left:106.17px;width:400px;text-align:center;top:567px;font-size:8.5px;color:#e6e6e6;letter-spacing:0.754px;">333</div>
<div class="t fC" style="left:161.22px;width:400px;text-align:center;top:567px;font-size:8.5px;color:#e6e6e6;letter-spacing:0.240px;">391.25</div>
<div class="t fC" style="left:216.49px;width:400px;text-align:center;top:567px;font-size:8.5px;color:#e6e6e6;letter-spacing:0.197px;">449.5</div>
<div class="t fC" style="left:271.57px;width:400px;text-align:center;top:567px;font-size:8.5px;color:#e6e6e6;letter-spacing:0.245px;">507.75</div>
<div class="t fC" style="left:326.79px;width:400px;text-align:center;top:567px;font-size:8.5px;color:#e6e6e6;letter-spacing:0.633px;">566</div>
<div class="t fS" style="left:132.02px;width:400px;text-align:center;top:346px;font-size:8.4px;color:#e6e6e6;letter-spacing:0.050px;">Longitudinal Magnetic Field Curves B(x)</div>
<div class="t fS" style="left:232.01px;top:582px;font-size:8.5px;color:#e6e6e6;letter-spacing:-0.042px;">Longitudinal Distance (mm)</div>
<div class="t fC" style="left:12.03px;top:472px;font-size:8.5px;color:#e6e6e6;letter-spacing:0.350px;">B (uT)</div>
<div class="b" style="left:563px;top:346px;width:89px;height:16.5px;background:linear-gradient(to bottom,#1d1e25,#2b2b33);border:1px solid #45454d;box-sizing:border-box;border-radius:1.5px;"></div>
<div class="t fS" style="right:132.08px;top:345px;font-size:8.5px;color:#f6f6f6;letter-spacing:0.066px;-webkit-text-stroke:0.25px #f6f6f6;">Hide Legend</div>
<div class="b" style="left:548.3px;top:370.2px;width:9.700000000000045px;height:8.199999999999989px;background:#212329;border-radius:2px;box-shadow:inset 0 0 0 0.6px #2b2d33;"></div>
<svg class="b" style="left:548.3px;top:369.70px;overflow:visible" width="10" height="9" viewBox="0 0 10 9"><path d="M3.0 2.9 L5.6 5.6 L8.7 0.7" fill="none" stroke="#ffffff" stroke-width="1.6"/></svg>
<svg class="b" style="left:563.6px;top:370.10px" width="6.8" height="8.4" viewBox="0 0 6.8 8.4"><path d="M1.55 3.5 V2.4 A1.95 1.95 0 0 1 5.4 2.1" fill="none" stroke="#dcdcdc" stroke-width="1.2"/><rect x="0.2" y="3.2" width="6.4" height="5" rx="0.7" fill="#dadada"/><rect x="2.6" y="5.3" width="1.5" height="0.9" fill="#181c20"/></svg>
<div class="b" style="left:574px;top:368.3px;width:4.100000000000023px;height:11.75px;background:#ff0000;"></div>
<div class="t fS" style="left:581.88px;top:366px;font-size:8.5px;color:#e6e6e6;letter-spacing:0.013px;">Bx_0deg_px39</div>
<div class="b" style="left:548.3px;top:389.98px;width:9.700000000000045px;height:8.199999999999989px;background:#212329;border-radius:2px;box-shadow:inset 0 0 0 0.6px #2b2d33;"></div>
<svg class="b" style="left:548.3px;top:389.48px;overflow:visible" width="10" height="9" viewBox="0 0 10 9"><path d="M3.0 2.9 L5.6 5.6 L8.7 0.7" fill="none" stroke="#ffffff" stroke-width="1.6"/></svg>
<svg class="b" style="left:563.6px;top:389.88px" width="6.8" height="8.4" viewBox="0 0 6.8 8.4"><path d="M1.55 3.5 V2.4 A1.95 1.95 0 0 1 5.4 2.1" fill="none" stroke="#dcdcdc" stroke-width="1.2"/><rect x="0.2" y="3.2" width="6.4" height="5" rx="0.7" fill="#dadada"/><rect x="2.6" y="5.3" width="1.5" height="0.9" fill="#181c20"/></svg>
<div class="b" style="left:574px;top:388.08000000000004px;width:4.100000000000023px;height:11.75px;background:#00ff00;"></div>
<div class="t fS" style="left:581.88px;top:386px;font-size:8.5px;color:#e6e6e6;letter-spacing:0.013px;">By_0deg_px39</div>
<div class="b" style="left:548.3px;top:409.76px;width:9.700000000000045px;height:8.199999999999989px;background:#212329;border-radius:2px;box-shadow:inset 0 0 0 0.6px #2b2d33;"></div>
<svg class="b" style="left:548.3px;top:409.26px;overflow:visible" width="10" height="9" viewBox="0 0 10 9"><path d="M3.0 2.9 L5.6 5.6 L8.7 0.7" fill="none" stroke="#ffffff" stroke-width="1.6"/></svg>
<svg class="b" style="left:563.6px;top:409.66px" width="6.8" height="8.4" viewBox="0 0 6.8 8.4"><path d="M1.55 3.5 V2.4 A1.95 1.95 0 0 1 5.4 2.1" fill="none" stroke="#dcdcdc" stroke-width="1.2"/><rect x="0.2" y="3.2" width="6.4" height="5" rx="0.7" fill="#dadada"/><rect x="2.6" y="5.3" width="1.5" height="0.9" fill="#181c20"/></svg>
<div class="b" style="left:574px;top:407.86px;width:4.100000000000023px;height:11.75px;background:#0000ff;"></div>
<div class="t fS" style="left:581.87px;top:406px;font-size:8.5px;color:#e6e6e6;letter-spacing:0.048px;">Bz_0deg_px39</div>
<div class="b" style="left:548.3px;top:429.53999999999996px;width:9.700000000000045px;height:8.199999999999989px;background:#212329;border-radius:2px;box-shadow:inset 0 0 0 0.6px #2b2d33;"></div>
<svg class="b" style="left:548.3px;top:429.04px;overflow:visible" width="10" height="9" viewBox="0 0 10 9"><path d="M3.0 2.9 L5.6 5.6 L8.7 0.7" fill="none" stroke="#ffffff" stroke-width="1.6"/></svg>
<svg class="b" style="left:563.6px;top:429.44px" width="6.8" height="8.4" viewBox="0 0 6.8 8.4"><path d="M1.55 3.5 V2.4 A1.95 1.95 0 0 1 5.4 2.1" fill="none" stroke="#dcdcdc" stroke-width="1.2"/><rect x="0.2" y="3.2" width="6.4" height="5" rx="0.7" fill="#dadada"/><rect x="2.6" y="5.3" width="1.5" height="0.9" fill="#181c20"/></svg>
<div class="b" style="left:574px;top:427.64px;width:4.100000000000023px;height:11.75px;background:#ffffff;"></div>
<div class="t fS" style="left:581.88px;top:425px;font-size:8.5px;color:#e6e6e6;letter-spacing:0.020px;">Babs_0deg_px3</div>
<div class="b" style="left:778px;top:0.9px;width:1px;height:606.1px;background:#060606;"></div>
<div class="b" style="left:779px;top:0px;width:1px;height:607px;background:#f6f6f6;"></div>
<div class="b" style="left:0px;top:0px;width:780px;height:0.9px;background:#fafafa;"></div>
</div></body></html>
